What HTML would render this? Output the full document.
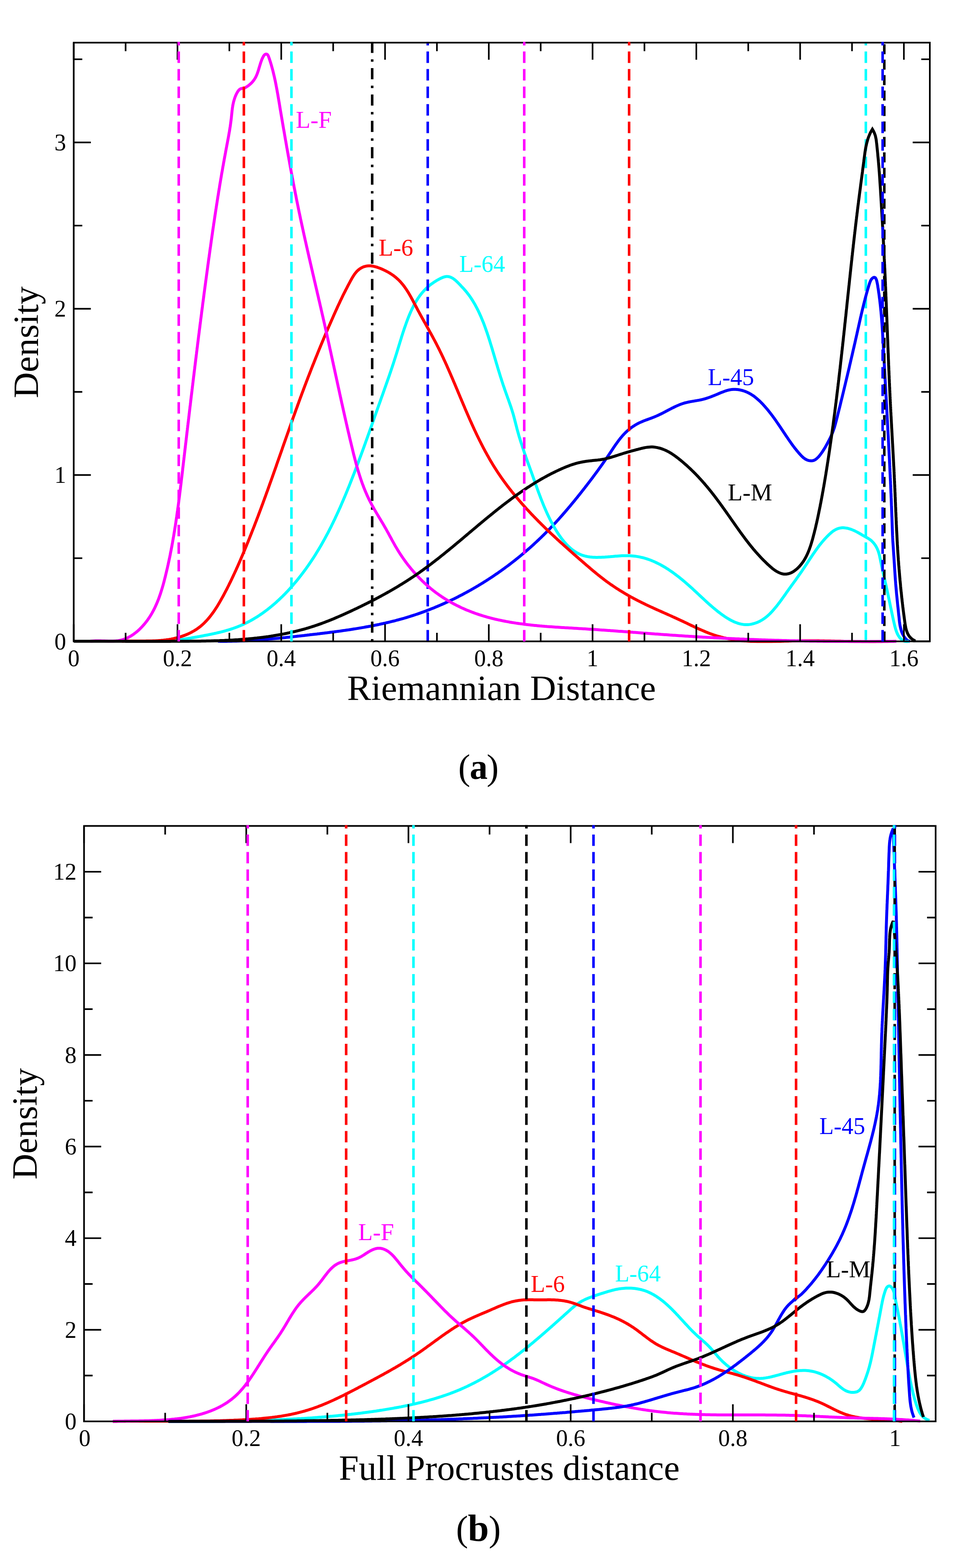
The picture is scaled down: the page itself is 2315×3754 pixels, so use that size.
<!DOCTYPE html>
<html lang="en"><head><meta charset="utf-8"><title>Density of Riemannian and full Procrustes distances</title>
<style>html,body{margin:0;padding:0;background:#fff}body{width:2315px;height:3754px;overflow:hidden}svg{display:block}text{font-family:'Liberation Serif', 'DejaVu Serif', serif}</style>
</head><body>
<svg width="2315" height="3754" viewBox="0 0 2315 3754">
<rect width="2315" height="3754" fill="#fff"/>
<g id="chart-a">
<clipPath id="clipA"><rect x="176.5" y="100.1" width="2049.5" height="1439.4"/></clipPath>
<path d="M2072.8 1535.8V100.2" stroke="#00ffff" stroke-width="6.1" stroke-dasharray="27.5 14.47" fill="none"/>
<g clip-path="url(#clipA)">
<path d="M521.8 1535.3l3 0l2.9 0.1l3 0l2.9 0l3 0l2.9 0l3 0l2.9-0.1l3 0l3 0l2.9-0.1l3-0.1l3 0l2.9-0.1l3-0.1l3-0.1l2.9-0.1l3-0.1l3-0.1l3-0.2l3-0.1l2.9-0.1l3-0.2l3-0.2l3-0.1l3-0.2l3-0.2l3-0.1l3-0.2l2.9-0.2l3-0.2l3-0.3l3-0.2l3-0.2l3-0.2l3-0.2l3-0.3l3-0.2l3-0.3l3-0.2l3-0.3l3-0.3l3-0.2l3-0.3l3.1-0.3l3-0.3l3-0.2l3-0.3l3-0.3l3-0.3l3-0.3l3-0.3l3-0.3l3-0.3l3-0.4l3-0.3l3.1-0.3l3-0.3l3-0.3l3-0.4l3-0.3l3-0.3l3-0.4l3-0.3l3-0.3l3.1-0.4l3-0.3l3-0.4l3-0.3l3-0.4l3-0.3l3-0.4l3-0.3l3-0.4l3-0.3l3-0.4l3.1-0.3l3-0.4l3-0.3l3-0.4l3-0.3l3-0.4l3-0.4l3-0.3l3-0.4l3-0.4l3-0.3l3-0.4l3-0.4l3-0.4l3-0.4l3-0.3l3-0.4l3-0.4l2.9-0.4l3-0.4l3-0.4l3-0.4l3-0.5l3-0.4l3-0.4l2.9-0.4l3-0.5l3-0.4l3-0.4l3-0.5l2.9-0.4l3-0.5l3-0.5l2.9-0.4l3-0.5l3-0.5l2.9-0.5l3-0.5l3-0.5l2.9-0.5l3-0.5l2.9-0.6l3-0.5l2.9-0.5l3-0.6l2.9-0.5l3-0.6l2.9-0.6l2.9-0.5l3-0.6l2.9-0.6l2.9-0.6l3-0.6l2.9-0.7l2.9-0.6l2.9-0.6l2.9-0.7l3-0.6l2.9-0.7l2.9-0.7l2.9-0.7l2.9-0.7l2.9-0.7l2.9-0.7l2.9-0.7l2.9-0.7l2.9-0.8l2.9-0.8l2.8-0.7l2.9-0.8l2.9-0.8l2.9-0.8l2.9-0.8l2.8-0.8l2.9-0.9l2.8-0.8l2.9-0.9l2.9-0.9l2.8-0.9l2.9-0.9l2.8-0.9l2.8-0.9l2.9-0.9l2.8-1l2.9-0.9l2.8-1l2.8-1l2.8-1l2.8-1l2.8-1l2.9-1.1l2.8-1l2.8-1.1l2.8-1l2.8-1.1l2.7-1.1l2.8-1.1l2.8-1.1l2.8-1.1l2.8-1.1l2.7-1.2l2.8-1.1l2.7-1.2l2.8-1.2l2.7-1.2l2.8-1.2l2.7-1.2l2.8-1.2l2.7-1.3l2.7-1.2l2.8-1.3l2.7-1.2l2.7-1.3l2.7-1.3l2.7-1.3l2.7-1.3l2.7-1.3l2.7-1.3l2.7-1.4l2.7-1.3l2.6-1.4l2.7-1.4l2.7-1.3l2.6-1.4l2.7-1.4l2.6-1.5l2.7-1.4l2.6-1.4l2.7-1.5l2.6-1.4l2.6-1.5l2.6-1.4l2.7-1.5l2.6-1.5l2.6-1.5l2.6-1.5l2.6-1.6l2.5-1.5l2.6-1.5l2.6-1.6l2.6-1.5l2.5-1.6l2.6-1.6l2.5-1.6l2.6-1.6l2.5-1.6l2.6-1.6l2.5-1.6l2.5-1.7l2.5-1.6l2.5-1.7l2.6-1.6l2.5-1.7l2.4-1.7l2.5-1.7l2.5-1.7l2.5-1.7l2.5-1.7l2.4-1.8l2.5-1.7l2.4-1.7l2.5-1.8l2.4-1.8l2.4-1.7l2.4-1.8l2.5-1.8l2.4-1.8l2.4-1.8l2.4-1.8l2.4-1.8l2.3-1.9l2.4-1.8l2.4-1.9l2.4-1.8l2.3-1.9l2.4-1.9l2.3-1.8l2.3-1.9l2.4-1.9l2.3-1.9l2.3-2l2.3-1.9l2.3-1.9l2.3-1.9l2.3-2l2.2-1.9l2.3-2l2.3-2l2.2-1.9l2.3-2l2.2-2l2.3-2l2.2-2l2.2-2l2.2-2.1l2.2-2l2.2-2l2.2-2.1l2.2-2l2.1-2.1l2.2-2.1l2.2-2l2.1-2.1l2.1-2.1l2.2-2.1l2.1-2.1l2.1-2.1l2.1-2.1l2.1-2.1l2.1-2.2l2.1-2.1l2.1-2.1l2-2.2l2.1-2.2l2-2.1l2.1-2.2l2-2.2l2-2.1l2.1-2.2l2-2.2l2-2.2l2-2.2l2-2.3l2-2.2l1.9-2.2l2-2.2l2-2.3l1.9-2.2l2-2.3l2-2.2l1.9-2.3l1.9-2.2l2-2.3l1.9-2.3l1.9-2.3l2-2.3l1.9-2.3l1.9-2.3l1.9-2.3l1.9-2.3l1.9-2.3l1.9-2.3l1.9-2.3l1.9-2.4l1.9-2.3l1.9-2.3l1.8-2.4l1.9-2.3l1.9-2.4l1.9-2.3l1.8-2.4l1.9-2.4l1.9-2.3l1.8-2.4l1.9-2.4l1.8-2.4l1.9-2.4l1.8-2.4l1.9-2.4l1.8-2.4l1.9-2.4l1.8-2.4l1.8-2.4l1.9-2.4l1.8-2.4l1.8-2.5l1.8-2.4l1.8-2.4l1.8-2.5l1.8-2.4l1.8-2.4l1.8-2.5l1.8-2.4l1.7-2.5l1.8-2.5l1.8-2.4l1.7-2.5l1.8-2.4l1.7-2.5l1.7-2.5l1.8-2.5l1.7-2.4l1.7-2.5l1.7-2.5l1.7-2.5l1.7-2.5l1.7-2.5l1.7-2.5l1.6-2.4l1.7-2.5l1.7-2.5l1.6-2.5l1.7-2.5l1.6-2.5l1.7-2.5l1.7-2.4l1.7-2.5l1.7-2.4l1.7-2.4l1.8-2.4l1.7-2.4l1.8-2.4l1.9-2.3l1.8-2.3l1.9-2.2l1.9-2.3l2-2.2l2-2.1l2.1-2.2l2.1-2.1l2.1-2l2.2-2l2.3-1.9l2.3-1.9l2.3-1.9l2.4-1.8l2.5-1.7l2.5-1.7l2.5-1.6l2.6-1.6l2.6-1.5l2.6-1.4l2.8-1.4l2.7-1.3l2.8-1.2l2.8-1.2l2.8-1.2l2.9-1.1l2.8-1.1l2.9-1l2.9-1.1l2.8-1l2.9-1.1l2.8-1l2.8-1.1l2.8-1.1l2.7-1.1l2.7-1.2l2.7-1.2l2.6-1.2l2.7-1.3l2.6-1.2l2.6-1.3l2.6-1.4l2.6-1.3l2.6-1.4l2.6-1.4l2.6-1.4l2.7-1.4l2.7-1.4l2.7-1.4l2.7-1.4l2.8-1.4l2.7-1.3l2.8-1.3l2.8-1.3l2.9-1.3l2.8-1.2l2.8-1.1l2.9-1.1l2.9-1l2.8-0.9l2.9-0.8l2.9-0.7l2.9-0.7l2.9-0.6l2.9-0.6l2.9-0.5l2.9-0.5l3-0.5l2.9-0.5l2.9-0.5l2.9-0.5l2.9-0.5l2.8-0.5l2.9-0.6l2.9-0.7l2.9-0.7l2.8-0.8l2.9-0.8l2.8-0.9l2.8-0.9l2.9-1l2.8-1l2.8-1.1l2.8-1.1l2.9-1.1l2.8-1.1l2.8-1.2l2.9-1.2l2.8-1.2l2.8-1.2l2.9-1.2l2.9-1.1l2.8-1.1l2.9-1.1l2.9-1l2.9-0.9l2.9-0.8l2.9-0.6l3-0.6l2.9-0.4l3-0.2l3-0.1l2.9 0.1l3 0.2l3 0.3l2.9 0.4l2.9 0.6l2.9 0.7l2.9 0.8l2.9 0.9l2.8 1l2.7 1.2l2.8 1.2l2.6 1.3l2.6 1.4l2.6 1.5l2.5 1.6l2.5 1.6l2.4 1.7l2.4 1.8l2.4 1.9l2.3 1.9l2.2 2l2.3 2l2.2 2l2.1 2.1l2.1 2.2l2.1 2.1l2.1 2.2l2 2.3l2 2.2l2 2.3l2 2.3l1.9 2.3l1.9 2.3l1.9 2.3l1.9 2.4l1.8 2.4l1.9 2.4l1.8 2.4l1.8 2.4l1.7 2.4l1.8 2.4l1.8 2.5l1.7 2.4l1.7 2.5l1.7 2.5l1.7 2.4l1.7 2.5l1.7 2.5l1.7 2.5l1.7 2.5l1.6 2.5l1.7 2.5l1.7 2.5l1.6 2.5l1.7 2.5l1.7 2.5l1.6 2.5l1.7 2.5l1.7 2.4l1.7 2.5l1.6 2.5l1.7 2.5l1.7 2.4l1.8 2.5l1.7 2.4l1.7 2.5l1.8 2.4l1.8 2.4l1.8 2.4l1.8 2.4l1.9 2.3l1.9 2.4l1.9 2.3l1.9 2.3l2 2.3l2 2.2l2.1 2.3l2 2.2l2.2 2.1l2.2 2l2.4 1.8l2.5 1.7l2.6 1.4l2.7 1.2l2.9 0.8l2.9 0.5l3 0.2l2.9-0.3l2.8-0.7l2.7-1.1l2.5-1.6l2.4-1.9l2.2-2.1l2.2-2.3l2-2.4l2-2.5l1.8-2.4l1.8-2.5l1.7-2.5l1.6-2.5l1.6-2.5l1.6-2.5l1.5-2.6l1.4-2.5l1.5-2.6l1.4-2.6l1.4-2.6l1.4-2.6l1.4-2.7l1.4-2.7l1.4-2.7l1.3-2.7l1.3-2.8l1.2-2.7l1.2-2.8l1.2-2.8l1.1-2.8l1-2.8l1-2.9l1-2.8l0.9-2.9l0.8-2.8l0.8-2.9l0.8-2.9l0.8-2.9l0.8-2.9l0.7-2.9l0.7-2.9l0.8-2.9l0.7-2.9l0.7-2.9l0.7-2.9l0.8-2.9l0.7-2.9l0.7-2.9l0.7-2.9l0.8-2.9l0.7-2.9l0.7-2.9l0.7-2.9l0.7-2.9l0.7-3l0.7-2.9l0.8-2.9l0.7-2.9l0.7-2.9l0.7-2.9l0.7-3l0.7-2.9l0.7-2.9l0.7-2.9l0.7-2.9l0.7-3l0.7-2.9l0.7-2.9l0.7-2.9l0.7-3l0.7-2.9l0.7-2.9l0.7-2.9l0.7-3l0.7-2.9l0.7-2.9l0.7-2.9l0.7-3l0.7-2.9l0.7-2.9l0.7-2.9l0.7-3l0.7-2.9l0.6-2.9l0.7-3l0.7-2.9l0.7-2.9l0.7-2.9l0.6-3l0.7-2.9l0.7-2.9l0.7-3l0.7-2.9l0.6-2.9l0.7-2.9l0.7-3l0.6-2.9l0.7-2.9l0.7-2.9l0.7-3l0.6-2.9l0.7-2.9l0.7-2.9l0.6-3l0.7-2.9l0.6-2.9l0.7-2.9l0.7-2.9l0.6-3l0.7-2.9l0.6-2.9l0.7-2.9l0.6-2.9l0.7-2.9l0.6-3l0.7-2.9l0.6-2.9l0.7-2.9l0.6-2.9l0.7-2.9l0.6-2.9l0.7-2.9l0.6-3l0.7-2.9l0.7-2.9l0.6-2.9l0.7-2.9l0.7-2.9l0.7-2.9l0.7-3l0.7-2.9l0.7-2.9l0.7-2.9l0.7-2.9l0.7-3l0.8-2.9l0.7-2.9l0.8-2.9l0.7-3l0.8-2.9l0.8-2.9l0.8-3l0.8-2.9l0.8-2.9l0.8-3l0.9-2.9l0.8-3l0.9-2.9l0.9-3l0.9-2.9l0.9-3l0.9-2.9l1.1-2.9l1.2-2.7l1.4-2.5l1.7-2.2l2-1.8l2.2-1.1l2.1-0.2l1.8 1l1.4 2l1.2 2.7l0.9 3l0.7 3.2l0.6 3.1l0.6 3.2l0.5 3l0.4 3.1l0.5 3l0.5 3l0.4 3l0.4 3l0.5 2.9l0.4 3l0.4 2.9l0.3 3l0.4 2.9l0.4 2.9l0.3 3l0.4 2.9l0.3 3l0.4 3l0.3 3l0.3 3l0.3 2.9l0.3 3l0.3 3l0.3 3l0.2 3l0.3 3l0.3 3l0.2 3l0.3 3l0.2 3.1l0.2 3l0.2 3l0.3 3l0.2 3l0.2 3l0.2 3l0.2 3l0.2 3l0.2 3l0.2 3l0.2 2.9l0.1 3l0.2 3l0.2 3l0.2 3l0.1 3l0.2 3l0.2 3l0.1 3l0.2 3l0.2 3l0.1 3l0.2 3l0.1 3l0.2 3l0.2 3l0.1 3l0.2 3l0.1 3l0.2 3l0.2 3l0.1 3l0.2 2.9l0.1 3l0.2 3l0.2 3l0.1 3l0.2 3l0.1 3l0.2 3l0.2 3l0.1 3l0.2 3l0.2 3l0.1 3l0.2 3l0.2 3l0.1 3l0.2 3l0.2 3l0.1 3l0.2 3l0.1 3l0.2 3l0.2 3l0.1 3l0.2 3l0.2 3l0.1 3l0.2 3l0.2 3l0.1 3l0.2 2.9l0.2 3l0.1 3l0.2 3l0.2 3l0.1 3l0.2 3l0.2 3l0.1 3l0.2 3l0.2 3l0.1 3l0.2 3l0.2 3l0.1 3l0.2 3l0.1 3l0.2 3l0.2 3l0.1 3l0.2 3l0.2 3l0.1 3l0.2 3l0.1 3l0.2 3l0.2 3l0.1 3l0.2 3l0.2 3l0.1 3l0.2 3l0.1 3l0.2 3l0.1 3l0.2 3l0.2 3l0.1 3l0.2 3l0.1 3l0.2 3l0.1 3l0.2 3l0.1 3l0.2 3l0.1 3l0.2 3l0.1 3l0.2 3l0.1 3l0.2 3l0.1 3l0.2 2.9l0.1 3l0.2 3l0.1 3l0.2 3l0.1 3l0.1 3l0.2 3l0.1 3l0.2 3l0.1 3l0.1 3l0.2 3l0.1 3l0.2 3l0.1 3l0.1 3l0.2 3l0.1 3l0.1 3l0.2 3l0.1 3l0.1 3l0.1 3l0.2 3l0.1 3l0.1 3l0.1 3l0.2 3l0.1 3l0.1 3l0.1 3l0.1 3l0.1 3l0.2 3l0.1 3l0.1 2.9l0.1 3l0.1 3l0.1 3l0.1 3l0.1 3l0.1 3l0.2 3l0.1 3l0.1 3l0.1 3l0.1 3l0.1 3l0.1 3l0.1 3l0.1 3l0.1 3l0.1 3l0.1 3l0.1 3l0.1 3l0.1 2.9l0.2 3l0.1 3l0.2 3l0.1 3l0.2 3l0.2 3l0.2 3l0.2 3l0.2 3l0.2 3l0.2 3l0.2 3l0.2 3l0.2 3l0.2 2.9l0.2 3l0.2 3l0.2 3l0.2 3l0.2 3l0.2 3l0.2 3l0.2 3l0.2 3l0.1 3l0.2 3l0.2 3l0.2 3l0.2 2.9l0.2 3l0.2 3l0.2 3l0.2 3l0.2 3l0.2 3l0.2 3l0.3 3l0.2 3l0.2 3l0.3 3l0.2 2.9l0.3 3l0.2 3l0.3 3l0.3 3l0.2 3l0.3 3l0.3 3l0.3 3l0.3 3l0.3 3l0.3 2.9l0.3 3l0.3 3l0.3 3l0.3 3l0.3 3l0.4 3l0.3 3l0.3 3l0.3 3l0.3 3l0.3 2.9l0.3 3l0.4 3l0.3 3l0.3 3l0.3 3l0.3 3l0.4 3l0.4 2.9l0.5 3l0.6 2.9l0.6 2.9l0.7 2.9l0.8 2.9l0.9 2.9l1 2.8l1.2 2.8l1.3 2.7l1.5 2.7l1.6 2.7l1.8 2.5l1.9 2.4l2.2 2l2.4 1.7l2.6 1.2l2.8 0.6" stroke="#0000ff" stroke-width="7" fill="none" stroke-linejoin="miter" stroke-miterlimit="3" stroke-linecap="butt"/>
<path d="M371 1535.3l2.9 0.1l3 0.1l2.9 0l2.9 0l3 0l2.9-0.1l3-0.1l2.9-0.1l3-0.2l2.9-0.1l3-0.2l3-0.3l3-0.2l3-0.3l3-0.3l3-0.4l3-0.3l3-0.4l3-0.4l3-0.4l3-0.4l3-0.5l3-0.4l3-0.5l3-0.5l3-0.5l3.1-0.5l3-0.5l3-0.5l3-0.6l3-0.5l3-0.5l3-0.6l3-0.5l3-0.6l3-0.5l3-0.6l3-0.5l3-0.6l3-0.6l3-0.5l3-0.6l2.9-0.6l3-0.6l3-0.6l2.9-0.6l3-0.6l2.9-0.7l3-0.6l2.9-0.7l2.9-0.7l2.9-0.7l2.9-0.7l2.9-0.7l2.9-0.8l2.9-0.8l2.9-0.8l2.8-0.8l2.9-0.8l2.8-0.9l2.9-0.9l2.8-0.9l2.8-0.9l2.8-1l2.8-1l2.7-1l2.8-1.1l2.8-1.1l2.7-1.1l2.7-1.1l2.7-1.2l2.7-1.2l2.7-1.3l2.7-1.3l2.6-1.3l2.7-1.3l2.6-1.4l2.6-1.4l2.6-1.4l2.6-1.5l2.6-1.4l2.6-1.6l2.5-1.5l2.6-1.6l2.5-1.5l2.5-1.7l2.5-1.6l2.5-1.7l2.4-1.7l2.5-1.7l2.4-1.7l2.5-1.8l2.4-1.8l2.4-1.8l2.4-1.8l2.4-1.9l2.3-1.8l2.4-1.9l2.3-1.9l2.3-2l2.3-1.9l2.3-2l2.3-2l2.3-2l2.2-2.1l2.3-2l2.2-2.1l2.2-2.1l2.2-2.1l2.2-2.1l2.2-2.1l2.1-2.2l2.1-2.1l2.2-2.2l2.1-2.2l2.1-2.2l2.1-2.2l2-2.3l2.1-2.2l2-2.3l2.1-2.3l2-2.3l2-2.3l2-2.3l1.9-2.3l2-2.3l1.9-2.3l2-2.4l1.9-2.4l1.9-2.3l1.8-2.4l1.9-2.4l1.9-2.4l1.8-2.4l1.8-2.4l1.9-2.4l1.7-2.4l1.8-2.4l1.8-2.4l1.8-2.5l1.7-2.4l1.7-2.5l1.7-2.4l1.7-2.5l1.7-2.5l1.7-2.4l1.7-2.5l1.6-2.5l1.7-2.5l1.6-2.5l1.6-2.5l1.6-2.5l1.6-2.5l1.6-2.6l1.5-2.5l1.6-2.5l1.5-2.6l1.6-2.5l1.5-2.6l1.5-2.5l1.5-2.6l1.5-2.5l1.5-2.6l1.4-2.6l1.5-2.6l1.4-2.6l1.5-2.6l1.4-2.6l1.4-2.6l1.4-2.6l1.4-2.6l1.4-2.6l1.4-2.6l1.4-2.7l1.3-2.6l1.4-2.6l1.3-2.7l1.4-2.6l1.3-2.7l1.3-2.6l1.3-2.7l1.3-2.7l1.3-2.6l1.3-2.7l1.3-2.7l1.3-2.7l1.2-2.7l1.3-2.7l1.3-2.7l1.2-2.7l1.2-2.7l1.3-2.7l1.2-2.7l1.2-2.7l1.2-2.7l1.3-2.7l1.2-2.8l1.2-2.7l1.1-2.7l1.2-2.8l1.2-2.7l1.2-2.8l1.2-2.7l1.1-2.8l1.2-2.7l1.2-2.8l1.1-2.7l1.2-2.8l1.1-2.8l1.1-2.7l1.2-2.8l1.1-2.8l1.1-2.8l1.2-2.7l1.1-2.8l1.1-2.8l1.1-2.8l1.1-2.8l1.1-2.8l1.1-2.8l1.1-2.8l1.1-2.8l1.1-2.8l1.1-2.8l1.1-2.8l1.1-2.8l1.1-2.8l1-2.9l1.1-2.8l1.1-2.8l1.1-2.8l1-2.8l1.1-2.9l1.1-2.8l1-2.8l1.1-2.8l1-2.9l1.1-2.8l1-2.9l1.1-2.8l1-2.8l1.1-2.9l1-2.8l1.1-2.9l1-2.8l1-2.8l1.1-2.9l1-2.8l1-2.9l1.1-2.8l1-2.9l1-2.8l1-2.9l1.1-2.8l1-2.9l1-2.8l1-2.9l1-2.9l1.1-2.8l1-2.9l1-2.8l1-2.9l1-2.8l1-2.9l1-2.8l1.1-2.9l1-2.9l1-2.8l1-2.9l1-2.8l1-2.9l1-2.9l1-2.8l1-2.9l1.1-2.8l1-2.9l1-2.8l1-2.9l1-2.9l1-2.8l1-2.9l1-2.8l1-2.9l1.1-2.8l1-2.9l1-2.8l1-2.9l1-2.8l1-2.9l1-2.8l1.1-2.9l1-2.8l1-2.8l1-2.9l1-2.8l1-2.9l1-2.8l1-2.9l1-2.8l1-2.8l1-2.9l1-2.8l1-2.9l1-2.8l1-2.8l1-2.9l1-2.8l1-2.8l0.9-2.9l1-2.8l1-2.8l0.9-2.9l1-2.8l0.9-2.8l1-2.9l0.9-2.8l1-2.8l0.9-2.9l0.9-2.8l0.9-2.8l0.9-2.9l0.9-2.8l0.9-2.8l0.9-2.8l0.9-2.9l0.9-2.8l0.9-2.8l0.8-2.8l0.9-2.9l0.9-2.8l0.8-2.8l0.9-2.9l0.8-2.8l0.9-2.8l0.9-2.8l0.8-2.9l0.9-2.8l0.9-2.8l0.9-2.8l0.8-2.9l0.9-2.8l0.9-2.8l0.9-2.8l0.9-2.9l1-2.8l0.9-2.8l0.9-2.8l1-2.9l1-2.8l1-2.8l1-2.8l1-2.9l1-2.8l1.1-2.8l1-2.8l1.1-2.9l1.1-2.8l1.1-2.8l1.2-2.8l1.2-2.8l1.2-2.8l1.2-2.8l1.3-2.7l1.2-2.8l1.4-2.7l1.3-2.7l1.4-2.7l1.4-2.7l1.5-2.6l1.5-2.6l1.5-2.6l1.6-2.6l1.6-2.6l1.6-2.5l1.7-2.4l1.7-2.5l1.8-2.4l1.9-2.4l1.8-2.3l2-2.3l2-2.3l2-2.2l2.1-2.1l2.1-2.2l2.2-2l2.3-2.1l2.3-1.9l2.3-2l2.4-1.8l2.5-1.9l2.5-1.7l2.5-1.7l2.6-1.7l2.6-1.6l2.6-1.5l2.6-1.5l2.7-1.4l2.7-1.4l2.7-1.2l2.7-1.2l2.7-0.9l2.7-0.7l2.7-0.4l2.7-0.1l2.7 0.3l2.6 0.6l2.6 0.9l2.6 1.2l2.6 1.5l2.4 1.7l2.5 1.9l2.4 2l2.3 2.2l2.3 2.3l2.3 2.3l2.2 2.3l2.2 2.3l2.1 2.3l2.1 2.2l2.1 2.2l2 2.2l1.9 2.3l2 2.2l1.9 2.3l1.8 2.3l1.8 2.3l1.8 2.4l1.8 2.4l1.7 2.4l1.7 2.5l1.6 2.5l1.6 2.5l1.6 2.5l1.5 2.6l1.6 2.6l1.5 2.6l1.4 2.6l1.4 2.7l1.4 2.6l1.4 2.7l1.4 2.7l1.3 2.7l1.3 2.7l1.3 2.7l1.2 2.8l1.2 2.7l1.3 2.8l1.1 2.7l1.2 2.8l1.1 2.8l1.2 2.8l1.1 2.7l1.1 2.8l1 2.8l1.1 2.9l1 2.8l1 2.8l1 2.8l1 2.9l1 2.8l1 2.8l0.9 2.9l1 2.8l0.9 2.9l0.9 2.8l1 2.9l0.9 2.9l0.9 2.8l0.8 2.9l0.9 2.9l0.9 2.8l0.9 2.9l0.9 2.9l0.8 2.8l0.9 2.9l0.8 2.9l0.9 2.8l0.8 2.9l0.9 2.9l0.8 2.8l0.9 2.9l0.8 2.9l0.9 2.9l0.8 2.8l0.9 2.9l0.8 2.9l0.9 2.8l0.9 2.9l0.8 2.9l0.9 2.9l0.8 2.8l0.9 2.9l0.9 2.9l0.9 2.9l0.9 2.8l0.8 2.9l0.9 2.9l0.9 2.8l1 2.9l0.9 2.9l0.9 2.9l0.9 2.8l1 2.9l0.9 2.9l1 2.9l1 2.8l1 2.9l0.9 2.9l1.1 2.8l1 2.9l1 2.9l1 2.9l1.1 2.8l1 2.9l1 2.9l1.1 2.8l1 2.9l1 2.9l1 2.8l1 2.9l1 2.9l1 2.8l1 2.9l0.9 2.9l0.9 2.8l0.9 2.9l0.9 2.9l0.9 2.8l0.8 2.9l0.8 2.9l0.8 2.8l0.7 2.9l0.8 2.8l0.7 2.9l0.7 2.9l0.8 2.8l0.7 2.9l0.7 2.8l0.8 2.9l0.7 2.9l0.7 2.8l0.8 2.9l0.8 2.8l0.8 2.9l0.8 2.8l0.8 2.9l0.8 2.8l0.9 2.9l0.9 2.8l0.8 2.9l0.9 2.8l0.9 2.9l0.9 2.8l1 2.9l0.9 2.8l0.9 2.9l1 2.8l0.9 2.8l1 2.9l1 2.8l0.9 2.8l1 2.9l1 2.8l1 2.9l1 2.8l1 2.8l1 2.8l1 2.9l1 2.8l1 2.8l1.1 2.9l1 2.8l1 2.8l1 2.8l1 2.8l1 2.9l1.1 2.8l1 2.8l1 2.8l1 2.8l1 2.8l1 2.9l1 2.8l1 2.8l1 2.8l1 2.8l1 2.8l1 2.8l1 2.8l1 2.8l1 2.8l1 2.8l1 2.8l1 2.8l1 2.8l1.1 2.7l1 2.8l1.1 2.8l1 2.8l1.1 2.8l1.1 2.8l1.1 2.7l1.1 2.8l1.1 2.8l1.1 2.8l1.1 2.7l1.2 2.8l1.2 2.8l1.2 2.8l1.2 2.7l1.2 2.8l1.2 2.7l1.3 2.8l1.3 2.8l1.3 2.7l1.3 2.8l1.4 2.7l1.3 2.8l1.4 2.7l1.4 2.8l1.5 2.7l1.5 2.7l1.4 2.8l1.6 2.7l1.5 2.7l1.6 2.7l1.6 2.7l1.6 2.7l1.7 2.7l1.7 2.6l1.7 2.6l1.8 2.6l1.8 2.6l1.8 2.5l1.8 2.5l1.9 2.5l1.9 2.4l1.9 2.3l2 2.4l2 2.2l2 2.3l2.1 2.1l2.1 2.1l2.1 2.1l2.2 1.9l2.2 2l2.2 1.8l2.3 1.8l2.3 1.7l2.4 1.6l2.3 1.5l2.5 1.5l2.4 1.4l2.5 1.3l2.5 1.2l2.6 1.1l2.6 1l2.7 0.9l2.6 0.8l2.8 0.7l2.7 0.6l2.8 0.6l2.8 0.4l2.9 0.4l2.8 0.3l2.9 0.3l3 0.2l2.9 0.1l3 0.1l3 0l3-0.1l3 0l3.1-0.1l3.1-0.2l3-0.1l3.1-0.2l3.1-0.3l3.2-0.2l3.1-0.3l3.1-0.2l3.1-0.3l3.2-0.2l3.1-0.3l3.1-0.3l3.2-0.2l3.1-0.2l3.1-0.2l3.2-0.2l3.1-0.2l3.1-0.1l3.1-0.1l3.1 0l3 0l3.1 0l3 0.1l3.1 0.2l3 0.2l3 0.3l2.9 0.3l3 0.4l2.9 0.5l2.9 0.5l2.9 0.5l2.9 0.7l2.9 0.6l2.8 0.7l2.9 0.8l2.8 0.8l2.8 0.9l2.8 0.9l2.7 1l2.8 1l2.7 1l2.7 1.1l2.7 1.2l2.7 1.1l2.7 1.3l2.6 1.2l2.7 1.3l2.6 1.4l2.6 1.3l2.6 1.4l2.6 1.5l2.6 1.5l2.5 1.5l2.6 1.5l2.5 1.6l2.5 1.6l2.5 1.6l2.5 1.7l2.5 1.7l2.5 1.7l2.4 1.7l2.4 1.8l2.5 1.8l2.4 1.8l2.4 1.8l2.4 1.9l2.4 1.8l2.3 1.9l2.4 1.9l2.3 1.9l2.4 2l2.3 1.9l2.3 2l2.3 1.9l2.3 2l2.3 2l2.3 2l2.2 2l2.3 2.1l2.2 2l2.3 2l2.2 2.1l2.2 2l2.2 2l2.2 2.1l2.2 2l2.2 2.1l2.2 2l2.2 2.1l2.2 2l2.1 2l2.2 2.1l2.2 2l2.2 2l2.2 2.1l2.2 2l2.2 2l2.2 2l2.2 2l2.2 2l2.3 1.9l2.2 2l2.3 1.9l2.3 2l2.3 1.9l2.3 1.9l2.4 1.9l2.3 1.9l2.4 1.9l2.4 1.8l2.4 1.8l2.5 1.9l2.5 1.8l2.5 1.7l2.5 1.8l2.6 1.7l2.5 1.6l2.7 1.6l2.6 1.6l2.6 1.5l2.7 1.4l2.7 1.4l2.7 1.3l2.7 1.2l2.8 1.1l2.8 1l2.8 1l2.8 0.8l2.8 0.7l2.9 0.6l2.8 0.5l2.9 0.3l2.9 0.2l2.9 0.1l3-0.1l2.9-0.2l3-0.3l2.9-0.5l3-0.7l2.9-0.8l2.9-0.9l2.9-1l2.9-1.1l2.8-1.3l2.8-1.3l2.7-1.5l2.7-1.5l2.5-1.7l2.5-1.7l2.5-1.8l2.4-1.8l2.3-2l2.3-2l2.2-2l2.2-2.1l2.1-2.2l2.1-2.2l2-2.2l2-2.2l2-2.3l1.9-2.3l1.9-2.3l1.9-2.3l1.8-2.3l1.8-2.3l1.8-2.4l1.8-2.3l1.7-2.4l1.8-2.4l1.7-2.4l1.7-2.4l1.7-2.3l1.8-2.5l1.7-2.4l1.7-2.4l1.7-2.4l1.7-2.5l1.7-2.4l1.8-2.4l1.7-2.5l1.8-2.5l1.8-2.4l1.7-2.5l1.8-2.4l1.8-2.5l1.8-2.5l1.8-2.5l1.8-2.5l1.8-2.4l1.8-2.5l1.7-2.5l1.8-2.5l1.8-2.5l1.7-2.5l1.8-2.5l1.7-2.5l1.7-2.4l1.7-2.5l1.7-2.5l1.7-2.5l1.7-2.5l1.6-2.5l1.6-2.4l1.7-2.5l1.6-2.5l1.6-2.5l1.7-2.4l1.6-2.5l1.6-2.5l1.6-2.4l1.7-2.5l1.6-2.5l1.7-2.4l1.6-2.5l1.7-2.4l1.7-2.4l1.7-2.5l1.7-2.4l1.8-2.4l1.7-2.5l1.8-2.4l1.8-2.4l1.8-2.4l1.9-2.3l1.9-2.4l1.9-2.3l2-2.3l2-2.3l2-2.3l2.1-2.3l2.1-2.2l2.1-2.2l2.2-2.2l2.2-2.1l2.3-2.1l2.3-2l2.4-2l2.4-1.8l2.5-1.7l2.5-1.5l2.6-1.3l2.7-1.2l2.7-0.9l2.7-0.7l2.8-0.5l2.9-0.3l2.9 0l2.9 0.1l2.9 0.4l2.9 0.4l3 0.7l2.9 0.8l2.9 0.9l2.9 1l2.8 1.2l2.8 1.2l2.8 1.3l2.7 1.4l2.7 1.4l2.7 1.5l2.6 1.5l2.7 1.5l2.6 1.5l2.6 1.6l2.6 1.5l2.6 1.5l2.5 1.4l2.6 1.5l2.5 1.4l2.4 1.6l2.4 1.7l2.4 1.9l2.2 2.1l2.1 2.2l2 2.4l1.9 2.5l1.7 2.5l1.5 2.6l1.4 2.6l1.3 2.6l1.1 2.7l1.1 2.7l0.9 2.7l0.8 2.8l0.8 2.8l0.7 2.8l0.6 2.9l0.6 2.9l0.6 2.8l0.6 2.9l0.6 3l0.6 2.9l0.6 3l0.6 2.9l0.6 3l0.7 3l0.6 3l0.7 3l0.7 3l0.6 3l0.7 3l0.7 3l0.7 3l0.7 3l0.7 3l0.7 3l0.6 3l0.7 3l0.7 2.9l0.6 2.9l0.7 3l0.6 2.9l0.7 2.9l0.6 2.9l0.6 2.9l0.6 2.9l0.7 2.9l0.6 2.9l0.6 2.9l0.6 2.9l0.6 2.8l0.6 2.9l0.6 2.9l0.6 2.9l0.6 2.9l0.6 2.9l0.6 2.9l0.6 2.9l0.7 2.9l0.6 2.9l0.6 2.9l0.6 3l0.6 2.9l0.7 3l0.6 2.9l0.6 3l0.7 3l0.6 3l0.7 3l0.7 3l0.7 3l0.7 3l0.7 3.1l0.8 3l0.8 3l0.9 2.9l0.9 2.9l1.1 2.8l1.1 2.8l1.2 2.6l1.4 2.6l1.5 2.4l1.6 2.3l1.8 2.2l2 2.1l2.1 1.8l2.4 1.6l2.5 1.3l2.7 0.9l3 0.4l3.2-0.1l3.4-0.6" stroke="#00ffff" stroke-width="7" fill="none" stroke-linejoin="miter" stroke-miterlimit="3" stroke-linecap="butt"/>
</g>
<path d="M1024 1535.8V100.2" stroke="#0000ff" stroke-width="6.1" stroke-dasharray="27.5 14.47" fill="none"/>
<path d="M891 1536V100.2" stroke="#000000" stroke-width="6.1" stroke-dasharray="5.9 15.25 26.7 15.25" fill="none"/>
<g clip-path="url(#clipA)">
<path d="M291.7 1535.3l2.8-0.1l2.8-0.2l2.8-0.1l2.9 0l2.9-0.1l2.9-0.1l2.9 0l3 0l2.9 0l3 0l3 0l3 0l3 0l3 0l3.1 0l3 0l3.1 0l3.1 0l3 0l3.1-0.1l3.1 0l3.1 0l3.1-0.1l3.1-0.1l3.1-0.1l3.1-0.1l3.1-0.1l3.1-0.2l3-0.2l3.1-0.2l3.1-0.2l3.1-0.3l3-0.3l3.1-0.4l3-0.3l3.1-0.5l3-0.4l3-0.5l3-0.5l3-0.6l3-0.6l2.9-0.7l2.9-0.7l3-0.7l2.9-0.8l2.8-0.8l2.9-0.9l2.8-0.9l2.8-1l2.8-1l2.8-1.1l2.7-1.1l2.7-1.1l2.7-1.3l2.6-1.2l2.6-1.3l2.6-1.4l2.6-1.4l2.5-1.4l2.5-1.6l2.4-1.5l2.4-1.6l2.4-1.7l2.3-1.8l2.3-1.7l2.3-1.9l2.2-1.9l2.1-1.9l2.2-2l2.1-2.1l2-2.1l2.1-2.1l2-2.2l1.9-2.2l1.9-2.2l1.9-2.3l1.9-2.4l1.8-2.4l1.8-2.4l1.8-2.4l1.8-2.5l1.7-2.4l1.7-2.6l1.7-2.5l1.6-2.6l1.7-2.5l1.6-2.6l1.6-2.7l1.5-2.6l1.6-2.6l1.5-2.7l1.5-2.7l1.5-2.6l1.5-2.7l1.5-2.7l1.5-2.7l1.4-2.7l1.4-2.7l1.5-2.7l1.4-2.7l1.4-2.6l1.4-2.7l1.3-2.7l1.4-2.7l1.4-2.7l1.3-2.7l1.3-2.8l1.4-2.7l1.3-2.7l1.3-2.7l1.3-2.7l1.3-2.7l1.3-2.7l1.2-2.7l1.3-2.8l1.3-2.7l1.2-2.7l1.3-2.7l1.2-2.7l1.2-2.8l1.3-2.7l1.2-2.7l1.2-2.8l1.2-2.7l1.2-2.7l1.2-2.8l1.2-2.7l1.2-2.8l1.1-2.7l1.2-2.7l1.2-2.8l1.2-2.7l1.1-2.8l1.2-2.7l1.1-2.8l1.2-2.8l1.1-2.7l1.2-2.8l1.1-2.7l1.2-2.8l1.1-2.8l1.1-2.7l1.2-2.8l1.1-2.8l1.1-2.7l1.1-2.8l1.1-2.8l1.1-2.8l1.1-2.7l1.1-2.8l1.1-2.8l1.1-2.8l1.1-2.8l1.1-2.8l1.1-2.7l1.1-2.8l1.1-2.8l1.1-2.8l1-2.8l1.1-2.8l1.1-2.8l1.1-2.8l1-2.8l1.1-2.8l1.1-2.8l1-2.8l1.1-2.8l1-2.8l1.1-2.8l1-2.8l1.1-2.8l1-2.8l1.1-2.8l1-2.8l1-2.8l1.1-2.8l1-2.9l1-2.8l1.1-2.8l1-2.8l1-2.8l1.1-2.8l1-2.9l1-2.8l1-2.8l1-2.8l1.1-2.8l1-2.9l1-2.8l1-2.8l1-2.8l1-2.9l1-2.8l1-2.8l1.1-2.8l1-2.9l1-2.8l1-2.8l1-2.8l1-2.9l1-2.8l1-2.8l1-2.9l1-2.8l1-2.8l1-2.9l1-2.8l1-2.8l0.9-2.9l1-2.8l1-2.8l1-2.9l1-2.8l1-2.8l1-2.9l1-2.8l1-2.8l1-2.9l1-2.8l1-2.8l1-2.9l1-2.8l0.9-2.8l1-2.9l1-2.8l1-2.8l1-2.9l1-2.8l1-2.8l1-2.9l1-2.8l1-2.9l1-2.8l1-2.8l1-2.9l1-2.8l1-2.8l1-2.9l1-2.8l1-2.8l1-2.9l1-2.8l1-2.8l1-2.9l1-2.8l1-2.8l1-2.8l1-2.9l1-2.8l1-2.8l1.1-2.9l1-2.8l1-2.8l1-2.8l1-2.9l1-2.8l1.1-2.8l1-2.8l1-2.9l1-2.8l1.1-2.8l1-2.8l1-2.9l1.1-2.8l1-2.8l1-2.8l1.1-2.8l1-2.8l1.1-2.9l1-2.8l1.1-2.8l1-2.8l1.1-2.8l1-2.8l1.1-2.8l1-2.8l1.1-2.8l1.1-2.9l1-2.8l1.1-2.8l1.1-2.8l1.1-2.8l1-2.8l1.1-2.8l1.1-2.8l1.1-2.8l1.1-2.8l1.1-2.8l1.1-2.8l1-2.8l1.1-2.7l1.1-2.8l1.1-2.8l1.1-2.8l1.2-2.8l1.1-2.8l1.1-2.8l1.1-2.8l1.1-2.8l1.1-2.7l1.1-2.8l1.2-2.8l1.1-2.8l1.1-2.8l1.1-2.7l1.2-2.8l1.1-2.8l1.2-2.7l1.1-2.8l1.1-2.8l1.2-2.8l1.1-2.7l1.2-2.8l1.1-2.8l1.2-2.7l1.2-2.8l1.1-2.7l1.2-2.8l1.2-2.8l1.1-2.7l1.2-2.8l1.2-2.7l1.2-2.8l1.1-2.7l1.2-2.8l1.2-2.7l1.2-2.8l1.2-2.7l1.2-2.7l1.2-2.8l1.2-2.7l1.2-2.8l1.2-2.7l1.2-2.7l1.2-2.8l1.2-2.7l1.2-2.7l1.3-2.8l1.2-2.7l1.2-2.7l1.2-2.7l1.3-2.7l1.2-2.8l1.2-2.7l1.3-2.7l1.2-2.7l1.3-2.7l1.3-2.7l1.2-2.7l1.3-2.7l1.3-2.7l1.3-2.7l1.3-2.7l1.3-2.7l1.3-2.7l1.4-2.6l1.3-2.7l1.4-2.7l1.3-2.7l1.4-2.6l1.4-2.7l1.4-2.7l1.4-2.7l1.4-2.7l1.4-2.7l1.5-2.7l1.4-2.7l1.5-2.7l1.5-2.7l1.6-2.7l1.6-2.7l1.6-2.5l1.7-2.6l1.8-2.4l1.9-2.3l2-2.3l2.1-2.1l2.2-1.9l2.3-1.9l2.5-1.6l2.5-1.5l2.6-1.3l2.7-1.1l2.8-0.8l2.7-0.7l2.8-0.4l2.9-0.2l2.8-0.1l2.9 0.2l2.8 0.3l2.9 0.5l2.9 0.7l2.9 0.7l2.9 0.9l2.9 1l2.8 1l2.9 1.1l2.8 1.2l2.9 1.3l2.8 1.3l2.7 1.3l2.8 1.4l2.7 1.5l2.7 1.5l2.6 1.5l2.6 1.6l2.6 1.7l2.5 1.7l2.4 1.8l2.4 1.9l2.3 1.8l2.3 2l2.2 2l2.1 2l2.1 2.1l2 2.1l2 2.2l1.9 2.3l1.9 2.2l1.8 2.3l1.8 2.4l1.7 2.4l1.7 2.4l1.7 2.4l1.6 2.5l1.6 2.5l1.6 2.6l1.5 2.5l1.5 2.6l1.5 2.6l1.5 2.6l1.4 2.7l1.5 2.6l1.4 2.7l1.4 2.7l1.4 2.6l1.4 2.7l1.4 2.7l1.5 2.7l1.4 2.6l1.4 2.7l1.4 2.7l1.4 2.7l1.4 2.6l1.5 2.7l1.4 2.6l1.5 2.7l1.4 2.6l1.5 2.6l1.4 2.7l1.5 2.6l1.5 2.6l1.4 2.7l1.5 2.6l1.5 2.6l1.4 2.6l1.5 2.7l1.4 2.6l1.5 2.6l1.5 2.6l1.4 2.6l1.5 2.7l1.4 2.6l1.5 2.6l1.4 2.6l1.4 2.7l1.5 2.6l1.4 2.6l1.4 2.7l1.4 2.6l1.4 2.6l1.4 2.7l1.4 2.6l1.4 2.7l1.3 2.7l1.4 2.6l1.3 2.7l1.4 2.7l1.3 2.7l1.3 2.6l1.3 2.7l1.3 2.7l1.3 2.7l1.3 2.7l1.3 2.7l1.3 2.7l1.2 2.8l1.3 2.7l1.2 2.7l1.3 2.7l1.2 2.8l1.3 2.7l1.2 2.7l1.2 2.8l1.2 2.7l1.2 2.7l1.2 2.8l1.2 2.7l1.2 2.8l1.2 2.7l1.2 2.8l1.2 2.8l1.2 2.7l1.2 2.8l1.2 2.7l1.1 2.8l1.2 2.8l1.2 2.7l1.2 2.8l1.1 2.8l1.2 2.7l1.1 2.8l1.2 2.8l1.2 2.7l1.1 2.8l1.2 2.8l1.2 2.8l1.1 2.7l1.2 2.8l1.1 2.8l1.2 2.7l1.2 2.8l1.1 2.8l1.2 2.8l1.2 2.7l1.1 2.8l1.2 2.8l1.2 2.7l1.2 2.8l1.1 2.8l1.2 2.7l1.2 2.8l1.2 2.7l1.2 2.8l1.2 2.8l1.2 2.7l1.2 2.8l1.2 2.7l1.2 2.8l1.2 2.7l1.2 2.8l1.3 2.7l1.2 2.7l1.2 2.8l1.3 2.7l1.2 2.7l1.3 2.7l1.2 2.8l1.3 2.7l1.3 2.7l1.2 2.7l1.3 2.7l1.3 2.7l1.3 2.7l1.3 2.7l1.3 2.7l1.4 2.7l1.3 2.7l1.3 2.6l1.4 2.7l1.3 2.7l1.4 2.6l1.3 2.7l1.4 2.6l1.4 2.7l1.4 2.6l1.4 2.7l1.4 2.6l1.5 2.6l1.4 2.6l1.4 2.6l1.5 2.6l1.5 2.6l1.4 2.6l1.5 2.6l1.5 2.6l1.5 2.6l1.6 2.5l1.5 2.6l1.5 2.5l1.6 2.6l1.6 2.5l1.6 2.6l1.6 2.5l1.6 2.5l1.6 2.5l1.6 2.5l1.7 2.5l1.6 2.5l1.7 2.4l1.7 2.5l1.7 2.5l1.7 2.4l1.7 2.4l1.8 2.5l1.7 2.4l1.8 2.4l1.8 2.4l1.7 2.4l1.8 2.4l1.8 2.4l1.9 2.4l1.8 2.4l1.8 2.4l1.9 2.3l1.8 2.4l1.9 2.3l1.9 2.3l1.9 2.4l1.9 2.3l1.9 2.3l1.9 2.3l2 2.3l1.9 2.3l2 2.3l1.9 2.3l2 2.3l2 2.3l2 2.2l2 2.3l2 2.2l2 2.3l2 2.2l2 2.3l2.1 2.2l2 2.2l2.1 2.2l2 2.2l2.1 2.2l2 2.2l2.1 2.2l2.1 2.2l2.1 2.2l2.1 2.1l2.1 2.2l2.1 2.2l2.2 2.1l2.1 2.2l2.1 2.1l2.1 2.1l2.2 2.2l2.1 2.1l2.2 2.1l2.1 2.1l2.2 2.2l2.2 2.1l2.2 2.1l2.1 2.1l2.2 2l2.2 2.1l2.2 2.1l2.2 2.1l2.2 2.1l2.2 2l2.2 2.1l2.2 2l2.2 2.1l2.2 2l2.2 2.1l2.3 2l2.2 2l2.2 2.1l2.2 2l2.3 2l2.2 2l2.2 2l2.2 2l2.3 2l2.2 2l2.3 2l2.2 2l2.2 2l2.3 2l2.2 2l2.3 1.9l2.2 2l2.2 2l2.3 1.9l2.2 2l2.3 1.9l2.2 2l2.2 1.9l2.3 2l2.2 1.9l2.2 1.9l2.3 2l2.2 1.9l2.2 1.9l2.3 1.9l2.2 2l2.2 1.9l2.3 1.9l2.2 1.9l2.2 1.9l2.2 1.9l2.3 1.9l2.2 1.9l2.3 1.9l2.2 1.8l2.3 1.9l2.3 1.9l2.2 1.8l2.3 1.9l2.3 1.8l2.3 1.8l2.4 1.9l2.3 1.8l2.4 1.8l2.3 1.8l2.4 1.8l2.4 1.8l2.4 1.7l2.5 1.8l2.4 1.7l2.5 1.8l2.5 1.7l2.5 1.7l2.5 1.7l2.6 1.7l2.5 1.7l2.6 1.7l2.6 1.6l2.6 1.7l2.6 1.6l2.6 1.6l2.6 1.6l2.7 1.6l2.6 1.6l2.7 1.6l2.6 1.5l2.7 1.6l2.7 1.5l2.6 1.5l2.7 1.5l2.7 1.4l2.7 1.5l2.7 1.4l2.6 1.4l2.7 1.4l2.7 1.4l2.7 1.4l2.7 1.3l2.7 1.4l2.6 1.3l2.7 1.3l2.7 1.3l2.7 1.3l2.7 1.3l2.6 1.3l2.7 1.2l2.7 1.3l2.7 1.2l2.7 1.2l2.7 1.3l2.6 1.2l2.7 1.2l2.7 1.2l2.7 1.2l2.7 1.2l2.7 1.2l2.7 1.2l2.7 1.2l2.7 1.2l2.7 1.2l2.7 1.2l2.7 1.2l2.7 1.2l2.7 1.2l2.7 1.2l2.7 1.2l2.7 1.3l2.7 1.2l2.7 1.2l2.7 1.2l2.7 1.3l2.7 1.2l2.8 1.3l2.7 1.3l2.7 1.2l2.8 1.3l2.7 1.3l2.7 1.3l2.8 1.3l2.7 1.3l2.7 1.3l2.8 1.4l2.7 1.3l2.8 1.3l2.8 1.3l2.7 1.3l2.8 1.3l2.8 1.2l2.7 1.3l2.8 1.3l2.8 1.2l2.8 1.2l2.8 1.2l2.8 1.2l2.8 1.2l2.8 1.2l2.8 1.1l2.8 1.1l2.8 1.1l2.8 1l2.8 1l2.9 1l2.8 1l2.8 0.9l2.9 0.9l2.8 0.8l2.9 0.8l2.9 0.8l2.8 0.8l2.9 0.7l2.9 0.7l2.8 0.6l2.9 0.7l2.9 0.6l2.9 0.5l2.9 0.6l2.9 0.5l2.9 0.5l2.9 0.4l2.9 0.5l2.9 0.4l3 0.4l2.9 0.3l2.9 0.4l3 0.3l2.9 0.3l2.9 0.2l3 0.3l2.9 0.2l3 0.2l2.9 0.2l3 0.2l3 0.2l2.9 0.1l3 0.1l3 0.1l2.9 0.1l3 0.1l3 0.1l3 0l3 0.1l2.9 0l3 0l3 0l3 0l3 0l3-0.1l3 0l3 0l3-0.1l3-0.1l3.1 0l3-0.1l3-0.1l3 0l3-0.1l3-0.1l3.1-0.1l3-0.1l3-0.1l3-0.1l3.1 0l3-0.1l3-0.1l3.1-0.1l3-0.1l3-0.1l3.1 0l3-0.1l3-0.1l3.1 0l3-0.1l3 0l3.1-0.1l3 0l3.1 0l3-0.1l3 0l3.1 0l3 0l3.1 0l3 0l3.1 0l3 0.1l3 0l3.1 0l3 0l3.1 0.1l3 0l3.1 0.1l3 0l3 0.1l3.1 0l3 0.1l3.1 0l3 0.1l3 0.1l3.1 0l3 0.1l3 0.1l3.1 0l3 0.1l3 0.1l3.1 0l3 0.1l3 0.1l3 0.1l3.1 0l3 0.1l3 0.1l3 0l3 0.1l3.1 0.1l3 0l3 0.1l3 0l3 0.1l3 0l3 0.1l3 0l3 0.1l3 0l3 0.1l3 0l3 0l3 0l2.9 0.1l3 0l3 0l3 0l2.9 0l3 0l3-0.1l2.9 0l3 0l2.9-0.1l3 0l2.9-0.1l3 0l2.9-0.1l3-0.1l2.9 0l2.9-0.1l2.9-0.1l3-0.2l2.9-0.1l2.9-0.1" stroke="#ff0000" stroke-width="7" fill="none" stroke-linejoin="miter" stroke-miterlimit="3" stroke-linecap="butt"/>
<path d="M216.3 1535.3l3.1-0.4l3.1-0.2l3-0.2l3.1-0.2l3.1-0.1l3.1 0l3.1 0l3 0.1l3.1 0.1l3.1 0.1l3 0.1l3.1 0.1l3 0.1l3 0.1l3 0l3 0.1l2.9-0.1l3 0l2.9-0.2l3-0.2l2.8-0.3l2.9-0.3l2.9-0.5l2.8-0.6l2.8-0.6l2.8-0.8l2.7-0.9l2.8-1l2.7-1.1l2.6-1.2l2.7-1.3l2.6-1.4l2.6-1.5l2.5-1.5l2.5-1.7l2.5-1.7l2.4-1.8l2.4-1.8l2.4-1.9l2.3-2l2.2-2l2.3-2.1l2.2-2.2l2.1-2.1l2.1-2.3l2-2.2l2-2.3l2-2.3l1.9-2.4l1.8-2.4l1.9-2.4l1.7-2.4l1.7-2.5l1.7-2.4l1.6-2.5l1.6-2.6l1.6-2.5l1.5-2.6l1.4-2.6l1.5-2.6l1.3-2.6l1.4-2.7l1.3-2.7l1.3-2.6l1.2-2.8l1.3-2.7l1.1-2.7l1.2-2.8l1.1-2.7l1.1-2.8l1.1-2.8l1-2.8l1-2.9l1-2.8l1-2.8l0.9-2.9l0.9-2.9l0.9-2.8l0.9-2.9l0.9-2.9l0.8-2.9l0.9-2.9l0.8-2.9l0.8-3l0.8-2.9l0.7-2.9l0.8-2.9l0.7-3l0.8-2.9l0.7-2.9l0.7-2.9l0.7-3l0.7-2.9l0.7-3l0.7-2.9l0.7-2.9l0.7-3l0.6-2.9l0.7-2.9l0.6-3l0.7-2.9l0.6-3l0.6-2.9l0.6-2.9l0.7-3l0.6-2.9l0.6-3l0.5-2.9l0.6-3l0.6-2.9l0.6-3l0.5-2.9l0.6-3l0.6-2.9l0.5-3l0.5-2.9l0.6-3l0.5-2.9l0.5-3l0.5-2.9l0.5-3l0.6-2.9l0.5-3l0.4-2.9l0.5-3l0.5-3l0.5-2.9l0.5-3l0.4-2.9l0.5-3l0.5-3l0.4-2.9l0.5-3l0.4-2.9l0.5-3l0.4-3l0.4-2.9l0.5-3l0.4-2.9l0.4-3l0.4-3l0.4-2.9l0.5-3l0.4-3l0.4-2.9l0.4-3l0.4-3l0.4-2.9l0.4-3l0.4-3l0.3-2.9l0.4-3l0.4-3l0.4-3l0.4-2.9l0.3-3l0.4-3l0.4-2.9l0.3-3l0.4-3l0.4-3l0.3-2.9l0.4-3l0.4-3l0.3-2.9l0.4-3l0.3-3l0.4-3l0.3-2.9l0.4-3l0.4-3l0.3-3l0.4-2.9l0.3-3l0.4-3l0.3-3l0.3-3l0.4-2.9l0.3-3l0.4-3l0.3-3l0.4-2.9l0.3-3l0.4-3l0.3-3l0.4-3l0.3-2.9l0.4-3l0.3-3l0.4-3l0.3-3l0.4-2.9l0.3-3l0.4-3l0.3-3l0.4-3l0.3-2.9l0.4-3l0.3-3l0.4-3l0.3-3l0.4-2.9l0.3-3l0.4-3l0.3-3l0.4-3l0.3-2.9l0.4-3l0.3-3l0.4-3l0.3-3l0.4-3l0.3-2.9l0.4-3l0.4-3l0.3-3l0.4-3l0.3-3l0.4-2.9l0.3-3l0.4-3l0.3-3l0.4-3l0.3-3l0.4-2.9l0.3-3l0.4-3l0.4-3l0.3-3l0.4-3l0.3-2.9l0.4-3l0.3-3l0.4-3l0.3-3l0.4-3l0.4-2.9l0.3-3l0.4-3l0.3-3l0.4-3l0.3-3l0.4-2.9l0.4-3l0.3-3l0.4-3l0.3-3l0.4-3l0.4-2.9l0.3-3l0.4-3l0.4-3l0.3-3l0.4-3l0.3-3l0.4-2.9l0.4-3l0.3-3l0.4-3l0.4-3l0.3-3l0.4-2.9l0.4-3l0.3-3l0.4-3l0.4-3l0.3-2.9l0.4-3l0.4-3l0.3-3l0.4-3l0.4-3l0.3-2.9l0.4-3l0.4-3l0.3-3l0.4-3l0.4-3l0.4-2.9l0.3-3l0.4-3l0.4-3l0.3-3l0.4-2.9l0.4-3l0.4-3l0.3-3l0.4-3l0.4-2.9l0.4-3l0.4-3l0.3-3l0.4-3l0.4-2.9l0.4-3l0.3-3l0.4-3l0.4-2.9l0.4-3l0.4-3l0.4-3l0.3-3l0.4-2.9l0.4-3l0.4-3l0.4-3l0.4-2.9l0.3-3l0.4-3l0.4-3l0.4-2.9l0.4-3l0.4-3l0.4-3l0.4-2.9l0.3-3l0.4-3l0.4-3l0.4-2.9l0.4-3l0.4-3l0.4-3l0.4-2.9l0.4-3l0.4-3l0.4-2.9l0.4-3l0.4-3l0.4-3l0.4-2.9l0.4-3l0.4-3l0.4-2.9l0.4-3l0.4-3l0.4-2.9l0.4-3l0.4-3l0.4-2.9l0.4-3l0.4-3l0.4-2.9l0.4-3l0.4-3l0.4-2.9l0.4-3l0.5-3l0.4-2.9l0.4-3l0.4-3l0.4-2.9l0.4-3l0.4-2.9l0.4-3l0.5-3l0.4-2.9l0.4-3l0.4-2.9l0.4-3l0.4-3l0.5-2.9l0.4-3l0.4-2.9l0.4-3l0.5-3l0.4-2.9l0.4-3l0.4-2.9l0.5-3l0.4-3l0.4-2.9l0.5-3l0.4-2.9l0.4-3l0.5-2.9l0.4-3l0.5-3l0.4-2.9l0.4-3l0.5-2.9l0.4-3l0.5-3l0.4-2.9l0.5-3l0.4-2.9l0.5-3l0.4-2.9l0.5-3l0.5-3l0.4-2.9l0.5-3l0.4-2.9l0.5-3l0.5-3l0.4-2.9l0.5-3l0.5-2.9l0.5-3l0.4-3l0.5-2.9l0.5-3l0.5-3l0.5-2.9l0.4-3l0.5-2.9l0.5-3l0.5-3l0.5-2.9l0.5-3l0.5-3l0.5-2.9l0.5-3l0.5-3l0.5-2.9l0.5-3l0.6-3l0.5-2.9l0.5-3l0.5-3l0.5-3l0.6-2.9l0.5-3l0.5-3l0.6-2.9l0.5-3l0.5-3l0.6-3l0.5-3l0.6-2.9l0.5-3l0.6-3l0.5-3l0.6-2.9l0.5-3l0.6-3l0.6-3l0.5-3l0.6-3l0.6-2.9l0.5-3l0.6-3l0.6-3l0.5-3l0.6-3l0.5-2.9l0.5-3l0.5-3l0.6-3l0.5-3l0.4-2.9l0.5-3l0.5-3l0.4-2.9l0.4-3l0.4-2.9l0.4-3l0.4-2.9l0.3-3l0.4-2.9l0.3-3l0.3-2.9l0.3-2.9l0.3-3l0.3-2.9l0.3-2.9l0.4-2.9l0.3-2.9l0.5-2.9l0.4-2.9l0.6-2.9l0.6-2.9l0.6-2.8l0.8-2.9l0.8-2.8l0.9-2.9l1-2.8l1.1-2.9l1.2-2.8l1.3-2.8l1.5-2.8l1.6-2.7l1.8-2.5l1.9-2.1l2.2-1.6l2.4-1l2.6-0.3l2.8-0.2l2.9-1l2.9-1.5l2.8-1.8l2.6-1.8l2.5-1.9l2.4-2l2.2-2.1l2.2-2.2l1.9-2.3l1.9-2.3l1.7-2.4l1.5-2.5l1.5-2.5l1.3-2.6l1.2-2.7l1.1-2.7l1-2.7l1-2.8l0.9-2.8l0.9-2.9l0.8-2.9l0.9-2.9l0.9-2.9l0.9-3l0.9-2.9l1-3l1.1-3l1.1-3l1.3-3l1.4-2.8l1.5-2.6l1.6-2.2l1.8-1.5l2-0.8l2 0.1l1.7 1.1l1.5 1.9l1.2 2.6l1 2.9l1 2.9l1 3l0.9 3l1 2.9l0.9 3l0.8 3l0.9 2.9l0.8 3l0.8 2.9l0.8 3l0.8 3l0.7 2.9l0.7 3l0.7 2.9l0.7 3l0.7 2.9l0.6 3l0.7 3l0.6 2.9l0.6 3l0.6 2.9l0.6 3l0.5 2.9l0.6 3l0.5 2.9l0.6 2.9l0.5 3l0.5 2.9l0.6 3l0.5 2.9l0.5 3l0.5 2.9l0.5 3l0.5 2.9l0.5 3l0.5 2.9l0.5 3l0.5 2.9l0.5 2.9l0.4 3l0.5 2.9l0.5 3l0.5 2.9l0.5 3l0.5 2.9l0.5 3l0.5 2.9l0.5 3l0.5 2.9l0.5 3l0.5 2.9l0.5 2.9l0.5 3l0.5 2.9l0.5 3l0.5 2.9l0.5 3l0.5 2.9l0.6 3l0.5 2.9l0.5 3l0.5 2.9l0.5 3l0.5 2.9l0.5 3l0.5 2.9l0.5 2.9l0.6 3l0.5 2.9l0.5 3l0.5 2.9l0.5 3l0.5 2.9l0.6 3l0.5 2.9l0.5 3l0.5 2.9l0.6 3l0.5 2.9l0.5 3l0.6 2.9l0.5 2.9l0.5 3l0.6 2.9l0.5 3l0.5 2.9l0.6 3l0.5 2.9l0.5 3l0.6 2.9l0.5 3l0.6 2.9l0.5 3l0.6 2.9l0.5 2.9l0.6 3l0.5 2.9l0.6 3l0.6 2.9l0.5 3l0.6 2.9l0.5 3l0.6 2.9l0.6 3l0.5 2.9l0.6 3l0.6 2.9l0.6 2.9l0.5 3l0.6 2.9l0.6 3l0.6 2.9l0.6 3l0.5 2.9l0.6 3l0.6 2.9l0.6 2.9l0.6 3l0.6 2.9l0.6 3l0.6 2.9l0.6 3l0.6 2.9l0.6 2.9l0.6 3l0.6 2.9l0.7 3l0.6 2.9l0.6 3l0.6 2.9l0.6 2.9l0.7 3l0.6 2.9l0.6 3l0.7 2.9l0.6 3l0.6 2.9l0.7 2.9l0.6 3l0.7 2.9l0.6 3l0.6 2.9l0.7 2.9l0.6 3l0.7 2.9l0.6 3l0.7 2.9l0.6 2.9l0.7 3l0.7 2.9l0.6 3l0.7 2.9l0.6 2.9l0.7 3l0.7 2.9l0.6 2.9l0.7 3l0.7 2.9l0.6 3l0.7 2.9l0.7 2.9l0.6 3l0.7 2.9l0.7 2.9l0.7 3l0.6 2.9l0.7 3l0.7 2.9l0.7 2.9l0.6 3l0.7 2.9l0.7 2.9l0.7 3l0.7 2.9l0.6 2.9l0.7 3l0.7 2.9l0.7 3l0.7 2.9l0.6 2.9l0.7 3l0.7 2.9l0.7 2.9l0.7 3l0.6 2.9l0.7 2.9l0.7 3l0.7 2.9l0.7 2.9l0.7 3l0.6 2.9l0.7 2.9l0.7 3l0.7 2.9l0.7 2.9l0.6 3l0.7 2.9l0.7 2.9l0.7 2.9l0.7 3l0.6 2.9l0.7 2.9l0.7 3l0.7 2.9l0.6 2.9l0.7 3l0.7 2.9l0.6 2.9l0.7 3l0.7 2.9l0.7 2.9l0.6 2.9l0.7 3l0.7 2.9l0.6 2.9l0.7 3l0.7 2.9l0.6 2.9l0.7 2.9l0.6 3l0.7 2.9l0.6 2.9l0.7 3l0.7 2.9l0.6 2.9l0.7 2.9l0.6 3l0.7 2.9l0.6 2.9l0.6 2.9l0.7 3l0.6 2.9l0.7 2.9l0.6 2.9l0.7 3l0.6 2.9l0.6 2.9l0.7 2.9l0.6 3l0.7 2.9l0.6 2.9l0.6 2.9l0.7 3l0.6 2.9l0.6 2.9l0.7 2.9l0.6 3l0.7 2.9l0.6 2.9l0.6 2.9l0.7 3l0.6 2.9l0.6 2.9l0.7 2.9l0.6 2.9l0.6 3l0.7 2.9l0.6 2.9l0.6 2.9l0.7 3l0.6 2.9l0.6 2.9l0.7 2.9l0.6 2.9l0.6 3l0.7 2.9l0.6 2.9l0.6 2.9l0.7 2.9l0.6 2.9l0.6 3l0.7 2.9l0.6 2.9l0.6 2.9l0.7 2.9l0.6 3l0.7 2.9l0.6 2.9l0.6 2.9l0.7 2.9l0.6 2.9l0.7 3l0.6 2.9l0.7 2.9l0.6 2.9l0.7 2.9l0.6 2.9l0.7 3l0.6 2.9l0.7 2.9l0.6 2.9l0.7 2.9l0.6 2.9l0.7 2.9l0.6 3l0.7 2.9l0.7 2.9l0.6 2.9l0.7 2.9l0.7 2.9l0.6 2.9l0.7 3l0.7 2.9l0.6 2.9l0.7 2.9l0.7 2.9l0.7 2.9l0.7 2.9l0.6 2.9l0.7 3l0.7 2.9l0.7 2.9l0.7 2.9l0.7 2.9l0.7 2.9l0.7 2.9l0.7 2.9l0.7 2.9l0.7 2.9l0.7 3l0.7 2.9l0.7 2.9l0.7 2.9l0.7 2.9l0.8 2.9l0.7 2.9l0.8 2.9l0.7 2.9l0.8 2.9l0.7 2.9l0.8 2.9l0.8 2.9l0.8 2.9l0.8 2.8l0.9 2.9l0.8 2.9l0.8 2.9l0.9 2.8l0.9 2.9l0.9 2.9l0.9 2.8l0.9 2.9l0.9 2.9l1 2.8l0.9 2.9l1 2.8l1 2.8l1 2.9l1.1 2.8l1.1 2.8l1 2.8l1.1 2.8l1.2 2.8l1.1 2.8l1.2 2.8l1.2 2.8l1.2 2.8l1.2 2.8l1.3 2.7l1.3 2.8l1.3 2.8l1.3 2.7l1.4 2.8l1.4 2.7l1.4 2.7l1.5 2.7l1.5 2.7l1.5 2.7l1.5 2.7l1.5 2.7l1.6 2.7l1.5 2.7l1.6 2.7l1.6 2.6l1.5 2.7l1.6 2.6l1.6 2.7l1.6 2.6l1.6 2.6l1.6 2.7l1.5 2.6l1.6 2.6l1.6 2.6l1.5 2.6l1.5 2.6l1.5 2.6l1.5 2.6l1.5 2.6l1.4 2.5l1.4 2.6l1.4 2.6l1.5 2.5l1.3 2.6l1.4 2.5l1.4 2.6l1.4 2.5l1.4 2.5l1.3 2.6l1.4 2.5l1.4 2.5l1.4 2.5l1.4 2.5l1.4 2.6l1.4 2.5l1.5 2.5l1.5 2.5l1.4 2.4l1.5 2.5l1.6 2.5l1.5 2.5l1.6 2.5l1.6 2.5l1.6 2.4l1.7 2.5l1.6 2.4l1.7 2.5l1.7 2.4l1.8 2.5l1.7 2.4l1.8 2.4l1.8 2.4l1.8 2.4l1.9 2.4l1.9 2.4l1.9 2.3l1.9 2.4l1.9 2.3l2 2.3l1.9 2.3l2 2.3l2 2.3l2.1 2.3l2 2.2l2.1 2.3l2.1 2.2l2.1 2.2l2.1 2.2l2.2 2.1l2.1 2.2l2.2 2.1l2.2 2.1l2.2 2.1l2.3 2.1l2.2 2l2.3 2l2.3 2l2.3 2l2.3 2l2.3 1.9l2.4 1.9l2.4 1.9l2.3 1.9l2.4 1.8l2.4 1.8l2.5 1.8l2.4 1.7l2.5 1.8l2.4 1.7l2.5 1.7l2.5 1.6l2.5 1.7l2.6 1.6l2.5 1.6l2.6 1.6l2.5 1.5l2.6 1.5l2.6 1.5l2.6 1.5l2.6 1.5l2.6 1.4l2.7 1.4l2.6 1.4l2.7 1.4l2.7 1.3l2.6 1.3l2.7 1.3l2.7 1.3l2.7 1.3l2.8 1.2l2.7 1.2l2.7 1.2l2.8 1.2l2.8 1.1l2.7 1.1l2.8 1.1l2.8 1.1l2.8 1.1l2.8 1l2.8 1.1l2.8 1l2.8 0.9l2.9 1l2.8 0.9l2.8 0.9l2.9 0.9l2.8 0.9l2.9 0.9l2.9 0.8l2.9 0.8l2.8 0.8l2.9 0.8l2.9 0.8l2.9 0.7l2.9 0.8l2.9 0.7l2.9 0.7l3 0.7l2.9 0.6l2.9 0.7l2.9 0.6l3 0.6l2.9 0.6l3 0.6l2.9 0.6l3 0.6l2.9 0.5l3 0.5l2.9 0.6l3 0.5l3 0.5l2.9 0.4l3 0.5l3 0.5l3 0.4l2.9 0.4l3 0.4l3 0.4l3 0.4l3 0.4l2.9 0.4l3 0.4l3 0.3l3 0.4l3 0.3l3 0.3l3 0.3l2.9 0.4l3 0.3l3 0.2l3 0.3l3 0.3l3 0.3l3 0.2l3 0.3l3 0.2l2.9 0.3l3 0.2l3 0.3l3 0.2l3 0.2l3 0.2l3 0.2l3 0.2l3 0.2l3 0.2l3 0.2l2.9 0.2l3 0.2l3 0.2l3 0.2l3 0.2l3 0.2l3 0.1l3 0.2l3 0.2l3 0.2l3 0.1l3 0.2l2.9 0.2l3 0.2l3 0.1l3 0.2l3 0.2l3 0.2l3 0.1l3 0.2l3 0.2l3 0.2l3 0.2l3 0.2l2.9 0.2l3 0.2l3 0.1l3 0.2l3 0.2l3 0.2l3 0.2l3 0.2l3 0.2l3 0.3l3 0.2l2.9 0.2l3 0.2l3 0.2l3 0.2l3 0.2l3 0.2l3 0.2l3 0.3l3 0.2l3 0.2l2.9 0.2l3 0.2l3 0.2l3 0.3l3 0.2l3 0.2l3 0.2l3 0.3l3 0.2l3 0.2l3 0.2l2.9 0.2l3 0.3l3 0.2l3 0.2l3 0.3l3 0.2l3 0.2l3 0.2l3 0.3l3 0.2l2.9 0.2l3 0.2l3 0.3l3 0.2l3 0.2l3 0.2l3 0.3l3 0.2l3 0.2l3 0.2l3 0.2l3 0.3l2.9 0.2l3 0.2l3 0.2l3 0.2l3 0.3l3 0.2l3 0.2l3 0.2l3 0.2l3 0.2l3 0.2l3 0.3l2.9 0.2l3 0.2l3 0.2l3 0.2l3 0.2l3 0.2l3 0.2l3 0.2l3 0.2l3 0.2l3 0.2l3 0.2l3 0.2l3 0.1l3 0.2l2.9 0.2l3 0.2l3 0.2l3 0.2l3 0.2l3 0.1l3 0.2l3 0.2l3 0.2l3 0.1l3 0.2l3 0.2l3 0.2l3 0.1l3 0.2l3 0.2l3 0.1l3 0.2l3 0.2l2.9 0.1l3 0.2l3 0.1l3 0.2l3 0.1l3 0.2l3 0.1l3 0.2l3 0.1l3 0.2l3 0.1l3 0.2l3 0.1l3 0.2l3 0.1l3 0.2l3 0.1l3 0.1l3 0.2l3 0.1l3 0.1l3 0.2l3 0.1l3 0.1l3 0.1l3 0.2l3 0.1l3 0.1l3 0.1l3 0.2l3 0.1l3 0.1l3 0.1l3 0.1l3 0.1l3 0.1l3 0.2l2.9 0.1l3 0.1l3 0.1l3 0.1l3 0.1l3 0.1l3 0.1l3 0.1l3 0.1l3 0.1l3 0.1l3 0.1l3 0.1l3 0.1l3 0l3 0.1l3 0.1l3 0.1l3 0.1l3 0.1l3 0l3 0.1l3 0.1l3 0.1l3 0.1l3 0l3 0.1l3 0.1l3 0l3 0.1l3 0.1l3 0l3 0.1l3 0.1l3 0l3 0.1l3 0.1l3 0l3 0.1l3 0l3 0.1l3 0l3 0.1l3 0l3 0.1l3 0l3 0.1l3 0l3 0.1l3 0l3 0l3 0.1l3 0l3 0l3 0.1l3 0l3 0l3 0.1l3 0l3 0l3 0.1l3 0l3 0l3 0l3.1 0.1l3 0l3 0l3 0l3 0l3 0l3 0l3 0.1l3 0l3 0l3 0l3 0l3 0l3 0l3 0l3 0l3 0l3 0l3 0l3 0l3 0l3 0l3 0l3 0l3-0.1l3 0l3 0l3 0l3 0l3 0l3 0l3-0.1l3 0l3 0l3 0l3-0.1l3 0l3 0l3-0.1l3 0l3 0l3-0.1l3 0l3 0l3-0.1l3 0" stroke="#ff00ff" stroke-width="7" fill="none" stroke-linejoin="miter" stroke-miterlimit="3" stroke-linecap="butt"/>
<path d="M176.5 1535.3l2.9 0l3 0l2.9 0l3 0l2.9 0l3 0l2.9 0l3 0l2.9 0l3 0l2.9 0l3 0l2.9 0l3 0l3 0l2.9 0l3 0l3 0l3 0l2.9 0l3 0l3 0l3 0l2.9 0l3 0l3 0l3 0l3 0l3 0l3 0l3 0l3 0l2.9 0l3 0l3 0l3 0l3 0l3 0l3 0l3.1 0l3 0l3 0.1l3 0l3 0l3 0l3 0l3 0l3 0l3 0l3.1 0l3 0l3 0l3 0l3 0l3 0l3.1 0l3 0l3 0l3 0l3 0l3.1 0l3 0l3 0l3 0l3.1 0l3 0l3 0l3 0l3.1 0l3 0l3 0l3.1 0l3 0l3 0l3 0l3.1 0l3 0l3-0.1l3.1 0l3 0l3 0l3 0l3.1 0l3 0l3 0l3.1 0l3-0.1l3 0l3.1 0l3 0l3 0l3 0l3.1-0.1l3 0l3 0l3-0.1l3.1 0l3 0l3-0.1l3 0l3.1 0l3-0.1l3 0l3-0.1l3.1 0l3-0.1l3-0.1l3 0l3.1-0.1l3-0.1l3-0.1l3-0.1l3 0l3-0.1l3.1-0.1l3-0.1l3-0.2l3-0.1l3-0.1l3-0.1l3-0.2l3-0.1l3-0.1l3-0.2l3-0.2l3-0.1l3-0.2l3-0.2l3-0.2l3-0.1l3-0.2l3-0.3l3-0.2l3-0.2l3-0.2l3-0.3l3-0.2l3-0.3l3-0.2l2.9-0.3l3-0.3l3-0.3l3-0.3l3-0.3l2.9-0.3l3-0.3l3-0.4l2.9-0.3l3-0.4l3-0.3l2.9-0.4l3-0.4l3-0.4l2.9-0.4l3-0.4l2.9-0.5l3-0.4l2.9-0.5l3-0.4l2.9-0.5l3-0.5l2.9-0.5l2.9-0.5l3-0.5l2.9-0.5l3-0.6l2.9-0.6l2.9-0.5l2.9-0.6l3-0.6l2.9-0.6l2.9-0.6l2.9-0.7l2.9-0.6l2.9-0.7l2.9-0.7l2.9-0.7l2.9-0.7l2.9-0.7l2.9-0.7l2.9-0.8l2.9-0.7l2.9-0.8l2.9-0.8l2.9-0.8l2.9-0.8l2.8-0.9l2.9-0.8l2.9-0.9l2.8-0.9l2.9-0.9l2.9-0.9l2.8-0.9l2.9-1l2.8-0.9l2.9-1l2.8-1l2.9-1l2.8-1l2.8-1.1l2.9-1l2.8-1.1l2.8-1.1l2.8-1.1l2.9-1.1l2.8-1.1l2.8-1.1l2.8-1.2l2.8-1.1l2.8-1.2l2.8-1.2l2.8-1.2l2.8-1.2l2.8-1.2l2.8-1.2l2.7-1.2l2.8-1.2l2.8-1.3l2.8-1.2l2.7-1.3l2.8-1.2l2.7-1.3l2.8-1.2l2.7-1.3l2.8-1.3l2.7-1.3l2.8-1.3l2.7-1.3l2.7-1.2l2.7-1.3l2.8-1.4l2.7-1.3l2.7-1.3l2.7-1.3l2.7-1.3l2.7-1.3l2.7-1.4l2.7-1.3l2.7-1.4l2.6-1.3l2.7-1.4l2.7-1.3l2.7-1.4l2.6-1.4l2.7-1.3l2.6-1.4l2.7-1.4l2.6-1.4l2.7-1.4l2.6-1.4l2.6-1.4l2.7-1.5l2.6-1.4l2.6-1.4l2.6-1.5l2.6-1.4l2.6-1.5l2.6-1.4l2.6-1.5l2.6-1.5l2.6-1.5l2.6-1.5l2.5-1.4l2.6-1.6l2.6-1.5l2.5-1.5l2.6-1.5l2.5-1.6l2.5-1.5l2.6-1.6l2.5-1.5l2.5-1.6l2.6-1.6l2.5-1.6l2.5-1.6l2.5-1.6l2.5-1.6l2.5-1.6l2.5-1.6l2.4-1.7l2.5-1.6l2.5-1.7l2.5-1.6l2.4-1.7l2.5-1.7l2.4-1.7l2.5-1.7l2.4-1.7l2.4-1.7l2.5-1.8l2.4-1.7l2.4-1.8l2.4-1.7l2.4-1.8l2.4-1.8l2.4-1.7l2.4-1.8l2.4-1.8l2.4-1.8l2.4-1.8l2.3-1.8l2.4-1.9l2.4-1.8l2.3-1.8l2.4-1.9l2.4-1.8l2.3-1.9l2.4-1.8l2.3-1.9l2.3-1.9l2.4-1.8l2.3-1.9l2.4-1.9l2.3-1.9l2.3-1.9l2.4-1.9l2.3-1.9l2.3-1.9l2.3-1.9l2.4-1.9l2.3-1.9l2.3-2l2.3-1.9l2.3-1.9l2.3-1.9l2.3-2l2.4-1.9l2.3-1.9l2.3-2l2.3-1.9l2.3-1.9l2.3-2l2.3-1.9l2.3-2l2.3-1.9l2.3-2l2.3-1.9l2.3-1.9l2.3-2l2.3-1.9l2.3-2l2.3-1.9l2.4-2l2.3-1.9l2.3-1.9l2.3-2l2.3-1.9l2.3-2l2.3-1.9l2.3-1.9l2.3-2l2.4-1.9l2.3-1.9l2.3-1.9l2.3-2l2.4-1.9l2.3-1.9l2.3-1.9l2.3-1.9l2.4-1.9l2.3-1.9l2.4-1.9l2.3-1.9l2.3-1.9l2.4-1.9l2.3-1.9l2.4-1.9l2.4-1.8l2.3-1.9l2.4-1.9l2.4-1.8l2.3-1.9l2.4-1.8l2.4-1.8l2.4-1.9l2.4-1.8l2.4-1.8l2.4-1.8l2.4-1.8l2.4-1.8l2.4-1.8l2.4-1.8l2.4-1.8l2.5-1.7l2.4-1.8l2.4-1.7l2.5-1.8l2.4-1.7l2.5-1.7l2.4-1.7l2.5-1.7l2.5-1.7l2.5-1.7l2.5-1.7l2.4-1.7l2.5-1.6l2.5-1.7l2.6-1.6l2.5-1.6l2.5-1.6l2.5-1.6l2.6-1.6l2.5-1.6l2.6-1.6l2.5-1.6l2.6-1.5l2.6-1.5l2.6-1.6l2.6-1.5l2.6-1.5l2.6-1.5l2.6-1.4l2.6-1.5l2.7-1.4l2.6-1.5l2.7-1.4l2.6-1.4l2.7-1.4l2.7-1.4l2.7-1.3l2.7-1.4l2.7-1.3l2.7-1.3l2.7-1.3l2.8-1.3l2.7-1.3l2.8-1.2l2.7-1.3l2.8-1.2l2.8-1.2l2.8-1.2l2.8-1.1l2.8-1.1l2.8-1.1l2.8-1.1l2.9-1l2.8-0.9l2.9-1l2.8-0.8l2.9-0.9l2.8-0.8l2.9-0.7l2.9-0.7l2.9-0.6l2.9-0.6l2.9-0.5l2.9-0.5l2.9-0.5l2.9-0.5l2.9-0.4l2.9-0.3l2.9-0.4l3-0.3l2.9-0.3l2.9-0.3l2.9-0.3l3-0.3l2.9-0.3l2.9-0.4l3-0.3l2.9-0.5l3-0.5l2.9-0.5l2.9-0.6l3-0.7l2.9-0.7l2.9-0.7l3-0.8l2.9-0.9l2.9-0.9l3-0.9l2.9-0.9l2.9-0.9l3-1l2.9-0.9l2.9-1l2.9-0.9l2.9-0.9l2.9-1l2.9-0.8l2.9-0.9l2.9-0.9l2.9-0.8l2.9-0.8l2.9-0.9l2.9-0.8l2.9-0.8l2.9-0.7l2.9-0.8l2.9-0.8l2.9-0.7l2.9-0.8l2.9-0.7l2.9-0.8l2.9-0.7l2.9-0.6l2.9-0.6l2.9-0.5l2.9-0.4l3-0.3l2.9-0.2l2.9-0.1l3 0l2.9 0.2l3 0.3l2.9 0.5l2.9 0.5l2.9 0.7l2.9 0.7l2.9 0.9l2.9 1l2.8 1l2.8 1.2l2.8 1.2l2.7 1.3l2.7 1.4l2.7 1.4l2.6 1.5l2.6 1.6l2.5 1.6l2.5 1.7l2.5 1.7l2.5 1.8l2.4 1.8l2.4 1.8l2.4 1.9l2.3 1.9l2.4 1.9l2.3 1.9l2.3 1.9l2.3 1.9l2.3 2l2.2 2l2.3 1.9l2.2 2l2.2 2l2.2 2.1l2.2 2l2.2 2.1l2.1 2l2.1 2.1l2.2 2.1l2.1 2.1l2.1 2.1l2 2.1l2.1 2.2l2.1 2.1l2 2.2l2 2.2l2.1 2.2l2 2.2l1.9 2.2l2 2.2l2 2.3l2 2.2l1.9 2.3l1.9 2.3l2 2.2l1.9 2.3l1.9 2.4l1.9 2.3l1.9 2.3l1.9 2.4l1.8 2.3l1.9 2.4l1.9 2.4l1.8 2.3l1.8 2.4l1.9 2.4l1.8 2.5l1.8 2.4l1.8 2.4l1.8 2.4l1.8 2.5l1.8 2.4l1.8 2.5l1.8 2.4l1.8 2.5l1.7 2.5l1.8 2.4l1.8 2.5l1.7 2.5l1.8 2.4l1.7 2.5l1.8 2.5l1.7 2.5l1.7 2.4l1.8 2.5l1.7 2.5l1.7 2.5l1.8 2.4l1.7 2.5l1.7 2.4l1.7 2.5l1.8 2.5l1.7 2.4l1.7 2.4l1.7 2.5l1.7 2.4l1.8 2.4l1.7 2.5l1.7 2.4l1.7 2.4l1.8 2.4l1.7 2.4l1.8 2.4l1.7 2.3l1.8 2.4l1.7 2.4l1.8 2.4l1.8 2.3l1.8 2.4l1.8 2.3l1.8 2.3l1.9 2.4l1.8 2.3l1.9 2.3l1.8 2.3l1.9 2.3l1.9 2.3l1.9 2.3l2 2.2l1.9 2.3l2 2.3l2 2.2l2 2.3l2.1 2.2l2 2.2l2.1 2.3l2.1 2.2l2.1 2.2l2.2 2.2l2.2 2.1l2.2 2.2l2.2 2.2l2.2 2.1l2.3 2.2l2.4 2.1l2.3 2.1l2.4 2.1l2.4 2.1l2.4 1.9l2.5 1.9l2.5 1.8l2.6 1.7l2.6 1.5l2.6 1.4l2.7 1.2l2.7 1.1l2.7 0.8l2.7 0.7l2.7 0.4l2.8 0.1l2.7-0.1l2.8-0.3l2.7-0.6l2.7-0.8l2.6-1l2.7-1.2l2.5-1.4l2.5-1.6l2.5-1.8l2.4-1.8l2.3-2l2.2-2l2.1-2.2l2.1-2.1l1.9-2.3l1.9-2.3l1.8-2.3l1.8-2.4l1.7-2.5l1.6-2.5l1.5-2.6l1.5-2.6l1.4-2.6l1.4-2.7l1.3-2.7l1.2-2.7l1.2-2.8l1.2-2.8l1.1-2.9l1.1-2.8l1-2.9l1-2.9l1-2.9l0.9-2.9l0.9-3l0.9-2.9l0.8-3l0.9-2.9l0.8-3l0.8-3l0.7-2.9l0.8-3l0.8-2.9l0.7-2.9l0.7-3l0.8-2.9l0.7-2.9l0.7-3l0.6-2.9l0.7-2.9l0.7-2.9l0.7-2.9l0.6-3l0.6-2.9l0.7-2.9l0.6-2.9l0.6-2.9l0.6-2.9l0.6-2.9l0.6-2.9l0.6-3l0.6-2.9l0.6-2.9l0.6-2.9l0.6-2.9l0.5-3l0.6-2.9l0.6-2.9l0.5-2.9l0.6-3l0.5-2.9l0.6-2.9l0.5-3l0.6-2.9l0.5-3l0.5-2.9l0.6-3l0.5-2.9l0.5-3l0.5-2.9l0.6-3l0.5-2.9l0.5-3l0.5-2.9l0.5-3l0.5-2.9l0.5-3l0.5-3l0.5-2.9l0.5-3l0.5-3l0.4-2.9l0.5-3l0.5-3l0.5-2.9l0.4-3l0.5-3l0.5-3l0.4-2.9l0.5-3l0.5-3l0.4-3l0.5-2.9l0.4-3l0.5-3l0.4-3l0.5-3l0.4-2.9l0.4-3l0.5-3l0.4-3l0.5-2.9l0.4-3l0.4-3l0.4-3l0.5-3l0.4-2.9l0.4-3l0.4-3l0.5-3l0.4-2.9l0.4-3l0.4-3l0.4-3l0.4-3l0.4-2.9l0.4-3l0.4-3l0.5-3l0.4-3l0.4-2.9l0.4-3l0.3-3l0.4-3l0.4-2.9l0.4-3l0.4-3l0.4-3l0.4-3l0.4-2.9l0.4-3l0.3-3l0.4-3l0.4-3l0.4-2.9l0.4-3l0.3-3l0.4-3l0.4-2.9l0.3-3l0.4-3l0.4-3l0.3-3l0.4-2.9l0.4-3l0.3-3l0.4-3l0.4-3l0.3-2.9l0.4-3l0.3-3l0.4-3l0.3-3l0.4-2.9l0.4-3l0.3-3l0.4-3l0.3-3l0.3-2.9l0.4-3l0.3-3l0.4-3l0.3-3l0.4-2.9l0.3-3l0.4-3l0.3-3l0.3-3l0.4-2.9l0.3-3l0.3-3l0.4-3l0.3-3l0.4-2.9l0.3-3l0.3-3l0.3-3l0.4-3l0.3-3l0.3-2.9l0.4-3l0.3-3l0.3-3l0.4-3l0.3-3l0.3-2.9l0.3-3l0.4-3l0.3-3l0.3-3l0.3-3l0.3-2.9l0.4-3l0.3-3l0.3-3l0.3-3l0.4-3l0.3-2.9l0.3-3l0.3-3l0.3-3l0.3-3l0.4-3l0.3-3l0.3-2.9l0.3-3l0.3-3l0.4-3l0.3-3l0.3-3l0.3-3l0.3-2.9l0.3-3l0.4-3l0.3-3l0.3-3l0.3-3l0.3-3l0.3-3l0.3-2.9l0.4-3l0.3-3l0.3-3l0.3-3l0.3-3l0.3-3l0.4-3l0.3-3l0.3-2.9l0.3-3l0.3-3l0.3-3l0.4-3l0.3-3l0.3-3l0.3-3l0.3-3l0.3-3l0.4-3l0.3-2.9l0.3-3l0.3-3l0.3-3l0.4-3l0.3-3l0.3-3l0.3-3l0.3-3l0.4-3l0.3-2.9l0.3-3l0.3-3l0.4-3l0.3-3l0.3-3l0.3-3l0.4-3l0.3-3l0.3-2.9l0.4-3l0.3-3l0.3-3l0.4-3l0.3-3l0.3-3l0.4-3l0.3-2.9l0.3-3l0.4-3l0.3-3l0.4-3l0.3-3l0.3-3l0.4-2.9l0.3-3l0.4-3l0.3-3l0.4-3l0.3-3l0.4-2.9l0.3-3l0.4-3l0.3-3l0.4-3l0.3-2.9l0.4-3l0.3-3l0.4-3l0.4-3l0.3-2.9l0.4-3l0.4-3l0.3-3l0.4-2.9l0.4-3l0.3-3l0.4-2.9l0.4-3l0.4-3l0.3-3l0.4-2.9l0.4-3l0.4-3l0.4-2.9l0.3-3l0.4-3l0.4-2.9l0.4-3l0.4-3l0.4-2.9l0.4-3l0.4-3l0.3-2.9l0.4-3l0.4-3l0.4-3l0.4-2.9l0.4-3l0.4-3l0.4-3l0.4-2.9l0.4-3l0.4-3l0.4-3l0.3-3l0.4-2.9l0.4-3l0.4-3l0.4-3l0.4-3l0.4-3l0.4-3l0.3-3l0.4-3l0.4-3l0.4-3l0.4-3l0.4-3l0.4-3l0.5-3l0.4-3l0.5-3l0.6-2.9l0.5-3l0.7-2.9l0.6-2.9l0.7-2.9l0.8-2.9l0.8-2.9l0.8-2.8l0.9-2.8l1-2.8l1.1-2.7l1.1-2.7l1.2-2.7l1.3-2.7l1.4-2.6l1.5-2.6l1.5-2.5l1.7 2.8l1.5 2.8l1.3 2.8l1.1 2.8l1 2.9l0.8 2.8l0.6 2.9l0.6 2.8l0.5 2.9l0.4 2.9l0.3 2.9l0.4 2.9l0.3 2.9l0.3 2.9l0.3 2.9l0.3 2.9l0.3 3l0.3 2.9l0.3 2.9l0.3 3l0.3 2.9l0.2 3l0.3 3l0.3 2.9l0.3 3l0.3 3l0.2 3l0.3 3l0.2 2.9l0.3 3l0.2 3l0.3 3l0.2 3l0.2 3.1l0.3 3l0.2 3l0.2 3l0.2 3l0.2 3l0.2 3l0.2 3.1l0.2 3l0.2 3l0.2 3l0.2 3l0.2 3.1l0.2 3l0.2 3l0.2 3l0.2 3.1l0.1 3l0.2 3l0.2 3l0.2 3l0.2 3.1l0.2 3l0.1 3l0.2 3l0.2 3l0.2 3l0.2 3l0.1 3l0.2 3l0.2 3l0.2 3.1l0.1 3l0.2 3l0.2 3l0.2 3l0.1 3l0.2 3l0.2 3l0.2 3l0.1 3l0.2 3l0.2 2.9l0.1 3l0.2 3l0.2 3l0.1 3l0.2 3l0.1 3l0.2 3l0.2 3l0.1 3l0.2 3l0.2 3l0.1 2.9l0.2 3l0.1 3l0.2 3l0.1 3l0.2 3l0.2 3l0.1 3l0.2 3l0.1 2.9l0.2 3l0.1 3l0.2 3l0.1 3l0.2 3l0.1 3l0.1 2.9l0.2 3l0.1 3l0.2 3l0.1 3l0.2 3l0.1 3l0.1 3l0.2 2.9l0.1 3l0.2 3l0.1 3l0.1 3l0.2 3l0.1 3l0.1 3l0.2 3l0.1 2.9l0.1 3l0.2 3l0.1 3l0.1 3l0.1 3l0.2 3l0.1 3l0.1 3l0.1 3l0.2 3l0.1 3l0.1 3l0.1 3l0.2 3l0.1 2.9l0.1 3l0.1 3l0.1 3l0.2 3l0.1 3l0.1 3l0.1 3l0.1 3l0.2 3l0.1 3l0.1 3l0.1 3l0.1 3l0.1 3l0.2 3l0.1 3l0.1 3l0.1 3l0.1 3l0.1 3l0.2 3l0.1 3l0.1 3l0.1 3l0.1 3l0.1 3l0.2 3l0.1 3l0.1 3l0.1 3l0.1 3l0.1 3l0.1 3l0.2 3l0.1 3l0.1 3l0.1 3l0.1 3l0.1 3l0.2 3l0.1 3l0.1 3l0.1 3l0.1 3l0.2 3l0.1 3l0.1 3l0.1 3l0.1 3l0.2 3.1l0.1 3l0.1 3l0.1 3l0.2 3l0.1 3l0.1 3l0.1 3l0.2 3l0.1 3l0.1 3l0.1 3l0.2 3l0.1 3l0.1 3l0.2 3l0.1 3l0.1 3l0.2 3l0.1 3l0.1 3l0.2 3l0.1 3l0.1 3l0.2 3l0.1 3l0.2 3l0.1 3l0.1 3l0.2 3l0.1 3l0.2 3l0.1 3l0.2 3l0.1 3l0.2 3l0.1 3l0.2 3l0.1 3l0.2 3l0.1 3l0.2 3l0.2 3l0.1 3l0.2 3l0.1 2.9l0.2 3l0.2 3l0.1 3l0.2 3l0.2 3l0.1 3l0.2 3l0.1 3l0.2 3l0.2 3l0.1 3l0.2 3l0.2 3l0.1 3l0.2 3l0.2 3l0.1 3l0.2 3l0.2 3l0.1 3l0.2 3l0.2 2.9l0.1 3l0.2 3l0.2 3l0.1 3l0.2 3l0.1 3l0.2 3l0.2 3l0.1 3l0.2 3l0.2 3l0.1 3l0.2 3l0.1 3l0.2 3l0.1 3l0.2 3l0.2 3l0.1 3l0.2 3l0.1 2.9l0.2 3l0.1 3l0.2 3l0.1 3l0.1 3l0.2 3l0.1 3l0.2 3l0.1 3l0.1 3l0.2 3l0.1 3l0.1 3l0.2 3l0.1 3l0.1 3l0.2 3l0.1 3l0.1 3l0.1 3l0.2 3l0.1 3l0.1 3l0.1 3l0.2 3l0.1 3l0.1 3l0.1 3l0.2 3l0.1 3l0.1 3l0.1 3l0.2 3l0.1 3l0.1 3l0.1 3l0.2 3l0.1 3l0.1 3l0.2 3l0.1 3l0.1 3l0.2 3l0.1 2.9l0.1 3l0.2 3l0.1 3l0.2 3l0.1 3l0.2 3l0.1 3l0.2 3l0.1 3l0.2 3l0.1 3l0.2 3l0.2 3l0.1 2.9l0.2 3l0.2 3l0.2 3l0.1 3l0.2 3l0.2 3l0.2 3l0.2 3l0.2 2.9l0.2 3l0.2 3l0.2 3l0.2 3l0.3 3l0.2 2.9l0.2 3l0.2 3l0.3 3l0.2 3l0.2 3l0.3 3l0.2 2.9l0.3 3l0.2 3l0.3 3l0.2 3l0.3 3l0.3 3l0.2 2.9l0.3 3l0.3 3l0.3 3l0.3 3l0.2 3l0.3 3l0.3 3l0.3 2.9l0.3 3l0.4 3l0.3 3l0.3 3l0.3 3l0.3 3l0.4 3l0.3 3l0.3 3l0.4 3l0.3 3l0.4 3l0.3 3l0.4 3l0.4 3l0.3 3l0.4 3l0.4 3l0.4 3.1l0.4 3l0.4 3l0.4 3l0.4 3l0.4 3l0.4 3.1l0.4 3l0.5 3l0.5 3l0.5 2.9l0.6 3l0.7 2.9l0.7 2.8l0.9 2.7l1 2.7l1.1 2.6l1.3 2.5l1.4 2.4l1.6 2.3l1.8 2.2l2.1 2l2.2 1.9l2.4 1.7l2.7 1.6l3 1.4" stroke="#000000" stroke-width="7" fill="none" stroke-linejoin="miter" stroke-miterlimit="3" stroke-linecap="butt"/>
</g>
<g stroke="#000" fill="none">
<rect x="176.5" y="102.1" width="2049.5" height="1433.4" stroke-width="4"/>
<path d="M176.5 1535.5v-41 M176.5 102.1v41 M424.9 1535.5v-41 M424.9 102.1v41 M673.3 1535.5v-41 M673.3 102.1v41 M921.8 1535.5v-41 M921.8 102.1v41 M1170.2 1535.5v-41 M1170.2 102.1v41 M1418.6 1535.5v-41 M1418.6 102.1v41 M1667 1535.5v-41 M1667 102.1v41 M1915.5 1535.5v-41 M1915.5 102.1v41 M2163.9 1535.5v-41 M2163.9 102.1v41 M300.7 1535.5v-20.5 M300.7 102.1v20.5 M549.1 1535.5v-20.5 M549.1 102.1v20.5 M797.6 1535.5v-20.5 M797.6 102.1v20.5 M1046 1535.5v-20.5 M1046 102.1v20.5 M1294.4 1535.5v-20.5 M1294.4 102.1v20.5 M1542.8 1535.5v-20.5 M1542.8 102.1v20.5 M1791.3 1535.5v-20.5 M1791.3 102.1v20.5 M2039.7 1535.5v-20.5 M2039.7 102.1v20.5 M176.5 1535.5h41 M2226 1535.5h-41 M176.5 1137.3h41 M2226 1137.3h-41 M176.5 739.2h41 M2226 739.2h-41 M176.5 341h41 M2226 341h-41 M176.5 1336.4h20.5 M2226 1336.4h-20.5 M176.5 938.2h20.5 M2226 938.2h-20.5 M176.5 540.1h20.5 M2226 540.1h-20.5 M176.5 141.9h20.5 M2226 141.9h-20.5" stroke-width="3.9"/>
</g>
<path d="M2117 1535.8V100.2" stroke="#000000" stroke-width="6.1" stroke-dasharray="24 13" fill="none"/>
<path d="M2113 1535.8V100.2" stroke="#0000ff" stroke-width="6.1" stroke-dasharray="27.5 14.47" fill="none"/>
<path d="M427.9 1535.8V100.2" stroke="#ff00ff" stroke-width="6.1" stroke-dasharray="27.5 14.47" fill="none"/>
<path d="M583.8 1535.8V100.2" stroke="#ff0000" stroke-width="6.1" stroke-dasharray="27.5 14.47" fill="none"/>
<path d="M697.7 1535.8V100.2" stroke="#00ffff" stroke-width="6.1" stroke-dasharray="27.5 14.47" fill="none"/>
<path d="M1255 1535.8V100.2" stroke="#ff00ff" stroke-width="6.1" stroke-dasharray="27.5 14.47" fill="none"/>
<path d="M1506.1 1535.8V100.2" stroke="#ff0000" stroke-width="6.1" stroke-dasharray="27.5 14.47" fill="none"/>
<text x="176.5" y="1594.8" font-size="56" fill="#000" text-anchor="middle">0</text>
<text x="424.9" y="1594.8" font-size="56" fill="#000" text-anchor="middle">0.2</text>
<text x="673.3" y="1594.8" font-size="56" fill="#000" text-anchor="middle">0.4</text>
<text x="921.8" y="1594.8" font-size="56" fill="#000" text-anchor="middle">0.6</text>
<text x="1170.2" y="1594.8" font-size="56" fill="#000" text-anchor="middle">0.8</text>
<text x="1418.6" y="1594.8" font-size="56" fill="#000" text-anchor="middle">1</text>
<text x="1667" y="1594.8" font-size="56" fill="#000" text-anchor="middle">1.2</text>
<text x="1915.5" y="1594.8" font-size="56" fill="#000" text-anchor="middle">1.4</text>
<text x="2163.9" y="1594.8" font-size="56" fill="#000" text-anchor="middle">1.6</text>
<text x="158.2" y="1554.5" font-size="56" fill="#000" text-anchor="end">0</text>
<text x="158.2" y="1156.3" font-size="56" fill="#000" text-anchor="end">1</text>
<text x="158.2" y="758.2" font-size="56" fill="#000" text-anchor="end">2</text>
<text x="158.2" y="360" font-size="56" fill="#000" text-anchor="end">3</text>
<text transform="translate(831.12 1676.40) scale(1.0136 1)" font-size="85.00" fill="#000">Riemannian Distance</text>
<text transform="translate(91.30 953.28) rotate(-90) scale(1.0064 1)" font-size="85.50" fill="#000">Density</text>
<text transform="translate(708.29 305.60) scale(1.0204 1)" font-size="56.00" fill="#ff00ff">L-F</text>
<text transform="translate(906.48 611.80) scale(1.0224 1)" font-size="56.00" fill="#ff0000">L-6</text>
<text transform="translate(1099.61 650.70) scale(1.0075 1)" font-size="56.00" fill="#00ffff">L-64</text>
<text transform="translate(1694.49 921.60) scale(1.0181 1)" font-size="56.00" fill="#0000ff">L-45</text>
<text transform="translate(1742.16 1198.00) scale(1.0372 1)" font-size="56.00" fill="#000000">L-M</text>
</g>
<text><tspan x="1096.9" y="1865.6" font-size="86.7">(</tspan><tspan x="1124.4" y="1865.4" font-size="85.9" font-weight="bold">a</tspan><tspan x="1165.1" y="1865.6" font-size="86.7">)</tspan></text>
<g id="chart-b">
<clipPath id="clipB"><rect x="201.2" y="1977.4" width="2038.7" height="1431.6"/></clipPath>
<g clip-path="url(#clipB)">
<path d="M403 3403l3 0l3.1 0l3 0l3 0l3 0l3.1 0.1l3 0l3 0l3 0l3 0l3.1 0l3 0l3 0l3 0l3 0l3 0l3 0l3.1 0l3 0l3 0l3 0l3 0l3 0l3 0l3-0.1l3 0l3 0l3 0l3 0l3 0l3 0l3 0l3-0.1l3 0l3 0l3 0l3-0.1l3 0l3 0l3 0l3-0.1l3 0l3 0l3-0.1l3 0l3 0l3-0.1l3 0l2.9-0.1l3 0l3-0.1l3 0l3-0.1l3 0l3-0.1l3 0l3-0.1l3 0l2.9-0.1l3-0.1l3 0l3-0.1l3-0.1l3-0.1l3 0l2.9-0.1l3-0.1l3-0.1l3-0.1l3 0l3-0.1l3-0.1l2.9-0.1l3-0.1l3-0.1l3-0.1l3-0.1l3-0.1l3-0.1l2.9-0.1l3-0.1l3-0.2l3-0.1l3-0.1l3-0.1l2.9-0.1l3-0.2l3-0.1l3-0.1l3-0.2l3-0.1l3-0.1l2.9-0.2l3-0.1l3-0.2l3-0.1l3-0.2l3-0.2l3-0.1l3-0.2l3-0.2l2.9-0.1l3-0.2l3-0.2l3-0.2l3-0.1l3-0.2l3-0.2l3-0.2l3-0.2l3-0.2l3-0.2l2.9-0.2l3-0.2l3-0.2l3-0.3l3-0.2l3-0.2l3-0.2l3-0.3l3-0.2l3-0.2l3-0.3l3-0.2l3-0.3l3-0.2l3-0.3l3-0.2l3-0.3l3-0.3l3-0.2l3-0.3l3-0.3l3-0.3l3.1-0.3l3-0.3l3-0.3l3-0.3l3-0.3l3-0.3l3-0.3l3-0.3l3-0.3l3-0.4l3-0.3l3-0.3l3-0.4l3-0.3l3-0.4l3-0.3l3-0.4l3-0.4l3-0.3l3-0.4l3-0.4l3-0.4l3-0.4l3-0.4l3-0.4l3-0.4l3-0.4l3-0.4l3-0.4l3-0.5l2.9-0.4l3-0.4l3-0.5l3-0.4l3-0.5l2.9-0.5l3-0.4l3-0.5l3-0.5l2.9-0.5l3-0.5l3-0.5l2.9-0.5l3-0.5l3-0.5l2.9-0.5l3-0.6l2.9-0.5l3-0.6l2.9-0.5l3-0.6l2.9-0.5l3-0.6l2.9-0.6l3-0.6l2.9-0.6l2.9-0.6l2.9-0.6l3-0.6l2.9-0.7l2.9-0.6l2.9-0.7l2.9-0.6l3-0.7l2.9-0.7l2.9-0.7l2.9-0.7l2.9-0.7l2.9-0.7l2.8-0.7l2.9-0.8l2.9-0.7l2.9-0.8l2.9-0.8l2.8-0.8l2.9-0.8l2.9-0.8l2.8-0.8l2.9-0.8l2.9-0.9l2.8-0.8l2.8-0.9l2.9-0.9l2.8-0.9l2.9-0.9l2.8-0.9l2.8-1l2.8-0.9l2.8-1l2.9-1l2.8-1l2.8-1l2.8-1l2.7-1.1l2.8-1l2.8-1.1l2.8-1.1l2.8-1.1l2.7-1.1l2.8-1.2l2.8-1.1l2.7-1.2l2.7-1.2l2.8-1.2l2.7-1.2l2.8-1.3l2.7-1.2l2.7-1.3l2.7-1.3l2.7-1.3l2.7-1.3l2.7-1.4l2.7-1.3l2.7-1.4l2.7-1.4l2.6-1.4l2.7-1.4l2.7-1.4l2.6-1.5l2.7-1.4l2.6-1.5l2.6-1.5l2.6-1.5l2.7-1.5l2.6-1.6l2.6-1.5l2.6-1.5l2.5-1.6l2.6-1.6l2.6-1.6l2.5-1.6l2.6-1.6l2.5-1.6l2.6-1.7l2.5-1.6l2.5-1.7l2.5-1.6l2.5-1.7l2.5-1.7l2.5-1.7l2.5-1.7l2.4-1.7l2.5-1.7l2.5-1.8l2.4-1.7l2.5-1.8l2.4-1.7l2.4-1.8l2.4-1.8l2.4-1.7l2.5-1.8l2.3-1.8l2.4-1.8l2.4-1.8l2.4-1.9l2.4-1.8l2.3-1.8l2.4-1.8l2.4-1.9l2.3-1.8l2.3-1.9l2.4-1.8l2.3-1.9l2.3-1.9l2.3-1.9l2.4-1.8l2.3-1.9l2.3-1.9l2.3-1.9l2.3-1.9l2.3-1.9l2.3-1.9l2.2-2l2.3-1.9l2.3-1.9l2.3-1.9l2.3-2l2.2-1.9l2.3-2l2.3-1.9l2.2-2l2.3-1.9l2.3-2l2.2-2l2.3-1.9l2.2-2l2.3-2l2.2-2l2.3-2l2.2-1.9l2.3-2l2.2-2l2.3-2l2.2-2l2.3-2.1l2.3-2l2.2-2l2.3-2l2.2-2l2.3-2l2.2-2.1l2.3-2l2.3-2l2.2-2.1l2.3-2l2.3-2.1l2.2-2l2.3-2l2.3-2.1l2.3-2l2.2-2.1l2.3-2l2.4-1.9l2.3-2l2.3-1.9l2.4-1.8l2.3-1.8l2.4-1.7l2.5-1.7l2.4-1.6l2.5-1.5l2.4-1.4l2.6-1.3l2.5-1.3l2.6-1.3l2.6-1.1l2.7-1.2l2.7-1.1l2.7-1.1l2.8-1l2.8-1l2.9-1.1l2.9-1l2.9-1l2.9-1l3-1l3-1l3-0.9l3-1l3-0.9l2.9-0.9l3-0.9l2.9-0.9l2.8-0.9l2.9-0.8l2.8-0.8l2.9-0.8l2.8-0.8l2.8-0.7l2.8-0.7l2.9-0.6l2.9-0.5l2.9-0.6l2.9-0.4l2.9-0.4l3-0.4l3-0.2l3-0.3l3-0.1l3-0.1l3.1 0l3 0l3.1 0.1l3 0.2l3 0.2l3.1 0.3l3 0.4l3 0.5l2.9 0.5l3 0.6l2.9 0.7l2.9 0.8l2.9 0.8l2.9 0.9l2.8 1l2.8 1.1l2.7 1.1l2.7 1.3l2.7 1.2l2.7 1.4l2.6 1.4l2.6 1.4l2.6 1.6l2.5 1.5l2.6 1.6l2.4 1.7l2.5 1.7l2.4 1.8l2.4 1.8l2.4 1.8l2.4 1.9l2.3 1.9l2.3 2l2.3 1.9l2.3 2l2.2 2.1l2.2 2l2.2 2.1l2.1 2l2.2 2.1l2.1 2.1l2.1 2.2l2.1 2.1l2.1 2.2l2.1 2.1l2 2.2l2.1 2.2l2 2.2l2 2.2l2.1 2.2l2 2.2l2 2.2l2 2.2l2 2.2l2.1 2.2l2 2.2l2 2.2l2.1 2.2l2 2.2l2.1 2.2l2 2.2l2.1 2.2l2.1 2.1l2.1 2.2l2.1 2.1l2.2 2.1l2.1 2.1l2.2 2.1l2.2 2.1l2.2 2l2.3 2.1l2.2 2l2.3 2l2.3 2l2.3 2l2.2 2l2.3 2l2.2 2l2.3 2.1l2.2 2l2.1 2.1l2.2 2.1l2 2.1l2.1 2.2l2 2.2l1.9 2.2l2 2.2l1.9 2.2l1.9 2.3l1.9 2.2l2 2.3l1.9 2.2l1.9 2.3l2 2.2l2 2.2l2 2.2l2.1 2.2l2.2 2.1l2.1 2.1l2.3 2.1l2.2 2l2.3 2l2.3 2l2.4 1.9l2.4 1.9l2.4 1.9l2.5 1.8l2.5 1.7l2.5 1.7l2.6 1.7l2.6 1.6l2.6 1.5l2.6 1.5l2.7 1.5l2.7 1.3l2.7 1.3l2.7 1.3l2.8 1.1l2.8 1.1l2.8 1.1l2.8 0.9l2.8 0.9l2.8 0.8l2.9 0.8l2.9 0.6l2.9 0.6l2.8 0.4l2.9 0.4l3 0.3l2.9 0.2l2.9 0.1l2.9 0.1l3-0.1l2.9-0.2l3-0.2l2.9-0.4l2.9-0.4l3-0.5l3-0.5l2.9-0.6l3-0.7l2.9-0.6l3-0.8l3-0.7l2.9-0.8l3-0.8l3-0.8l2.9-0.8l3-0.9l3-0.8l2.9-0.8l3-0.8l3-0.7l2.9-0.8l3-0.7l3-0.6l2.9-0.6l3-0.6l3-0.6l2.9-0.5l3-0.4l2.9-0.4l3-0.3l2.9-0.3l3-0.2l2.9-0.1l3-0.1l2.9 0l2.9 0l3 0.2l2.9 0.2l2.9 0.3l2.9 0.4l2.9 0.5l2.9 0.6l2.9 0.6l2.9 0.8l2.9 0.8l2.8 0.9l2.9 1l2.8 1l2.8 1.1l2.8 1.2l2.8 1.3l2.7 1.3l2.7 1.4l2.7 1.5l2.6 1.5l2.7 1.5l2.6 1.7l2.5 1.7l2.5 1.7l2.5 1.8l2.5 1.9l2.4 1.9l2.3 1.9l2.4 2l2.3 2l2.3 2l2.3 2l2.3 1.9l2.3 1.8l2.4 1.8l2.4 1.6l2.5 1.5l2.6 1.4l2.7 1.1l2.7 1l2.9 0.8l3 0.5l3.1 0.3l3.1 0.1l3.1-0.3l2.9-0.5l2.7-0.7l2.4-1.1l2-1.3l1.8-1.5l1.7-1.9l1.6-2.1l1.5-2.4l1.5-2.6l1.4-2.7l1.4-2.9l1.3-3l1.2-3.1l1.2-3.1l1.2-3l1.1-3.1l1.1-3l1-3l1-2.9l1-2.9l0.9-2.8l0.9-2.9l0.8-2.8l0.9-2.9l0.8-2.8l0.7-2.9l0.8-2.9l0.7-2.9l0.7-2.9l0.7-2.8l0.6-3l0.7-2.9l0.6-2.9l0.6-2.9l0.6-2.9l0.6-3l0.6-2.9l0.5-2.9l0.6-3l0.6-2.9l0.6-3l0.5-3l0.6-2.9l0.6-3l0.6-2.9l0.5-3l0.6-3l0.6-2.9l0.5-3l0.6-3l0.6-2.9l0.6-3l0.5-3l0.6-2.9l0.6-3l0.5-3l0.6-2.9l0.6-3l0.5-2.9l0.6-3l0.6-2.9l0.5-3l0.6-2.9l0.5-3l0.6-2.9l0.6-3l0.5-2.9l0.6-2.9l0.5-2.9l0.5-2.9l0.6-3l0.5-2.9l0.6-2.9l0.5-2.8l0.5-2.9l0.6-2.9l0.6-2.9l0.5-2.9l0.7-2.9l0.6-3l0.7-2.9l0.7-3l0.8-3l0.9-3l0.9-3.1l1-3.1l1-3.1l1.2-3l1.4-2.8l1.6-2.3l1.8-1.7l2.1-1l2.1-0.1l2.1 0.9l2 1.7l1.8 2.3l1.7 2.8l1.4 3.1l1.1 3.1l0.9 3l0.7 3l0.6 2.9l0.6 3l0.5 2.9l0.6 2.9l0.6 2.9l0.5 3l0.6 2.9l0.6 2.9l0.6 3l0.6 2.9l0.6 2.9l0.6 2.9l0.6 3l0.6 2.9l0.6 2.9l0.5 3l0.6 2.9l0.6 3l0.6 2.9l0.5 2.9l0.6 3l0.5 2.9l0.6 3l0.5 2.9l0.6 3l0.5 3l0.6 2.9l0.5 3l0.5 2.9l0.5 3l0.6 3l0.5 2.9l0.5 3l0.5 2.9l0.5 3l0.5 3l0.5 2.9l0.5 3l0.6 3l0.5 2.9l0.5 3l0.5 3l0.5 2.9l0.5 3l0.5 3l0.5 2.9l0.5 3l0.5 3l0.5 2.9l0.5 3l0.5 3l0.5 2.9l0.5 3l0.5 2.9l0.5 3l0.5 2.9l0.6 3l0.5 2.9l0.5 3l0.5 2.9l0.6 3l0.5 2.9l0.5 3l0.6 2.9l0.5 2.9l0.6 3l0.5 2.9l0.6 2.9l0.6 2.9l0.5 3l0.6 2.9l0.6 2.9l0.6 2.9l0.6 2.9l0.7 3l0.6 2.9l0.7 2.9l0.7 2.9l0.7 2.9l0.7 2.9l0.7 3l0.8 2.9l0.7 2.9l0.8 2.9l0.8 3l0.9 2.9l0.9 2.9l0.8 2.9l1 3l0.9 2.9l1 2.9l1.1 2.9l1.1 2.8l1.2 2.8l1.3 2.7l1.3 2.7l1.5 2.5l1.6 2.4l1.7 2.4l1.9 2.2l2 2l2.1 1.9l2.4 1.8l2.5 1.5l2.6 1.4l2.9 1.2l3.1 0.9" stroke="#00ffff" stroke-width="7" fill="none" stroke-linejoin="miter" stroke-miterlimit="3" stroke-linecap="butt"/>
<path d="M270 3403l2.9 0l3-0.1l2.9 0l3-0.1l2.9 0l3 0l3-0.1l2.9 0l3 0l3 0l2.9-0.1l3 0l3 0l3 0l2.9 0l3 0l3-0.1l3 0l3 0l3 0l2.9 0l3 0l3 0l3 0l3 0l3 0l3 0l3 0l3 0l3.1 0l3 0l3-0.1l3 0l3 0l3 0l3 0l3 0l3.1 0l3 0l3 0l3 0l3 0l3.1 0l3 0l3 0l3 0l3.1 0l3 0l3 0l3 0l3.1 0l3 0l3 0l3.1 0l3 0l3 0l3.1 0l3 0l3 0l3.1 0l3-0.1l3 0l3 0l3.1 0l3 0l3 0l3.1-0.1l3 0l3 0l3.1-0.1l3 0l3 0l3.1-0.1l3 0l3 0l3.1-0.1l3 0l3-0.1l3 0l3.1-0.1l3-0.1l3 0l3-0.1l3.1-0.1l3 0l3-0.1l3-0.1l3-0.1l3.1-0.1l3-0.1l3-0.1l3-0.1l3-0.1l3-0.1l3.1-0.1l3-0.1l3-0.2l3-0.1l3-0.1l3-0.2l3-0.1l3-0.2l3-0.1l3-0.2l3-0.2l3-0.1l3-0.2l2.9-0.2l3-0.2l3-0.2l3-0.2l3-0.2l3-0.2l2.9-0.3l3-0.2l3-0.2l3-0.3l2.9-0.2l3-0.3l2.9-0.3l3-0.3l3-0.3l2.9-0.3l3-0.3l2.9-0.3l3-0.4l2.9-0.3l3-0.4l2.9-0.3l2.9-0.4l3-0.4l2.9-0.5l2.9-0.4l3-0.4l2.9-0.5l2.9-0.5l2.9-0.5l2.9-0.5l2.9-0.5l3-0.5l2.9-0.6l2.9-0.5l2.9-0.6l2.9-0.7l2.9-0.6l2.9-0.6l2.8-0.7l2.9-0.7l2.9-0.7l2.9-0.7l2.9-0.8l2.8-0.7l2.9-0.8l2.9-0.8l2.8-0.9l2.9-0.8l2.9-0.9l2.8-0.9l2.9-0.9l2.8-1l2.9-0.9l2.8-1l2.8-1.1l2.9-1l2.8-1l2.8-1.1l2.9-1.1l2.8-1.1l2.8-1.1l2.8-1.2l2.8-1.2l2.8-1.1l2.8-1.2l2.8-1.2l2.8-1.3l2.8-1.2l2.8-1.3l2.8-1.2l2.7-1.3l2.8-1.3l2.8-1.3l2.8-1.3l2.7-1.3l2.8-1.4l2.7-1.3l2.8-1.3l2.7-1.4l2.8-1.4l2.7-1.3l2.7-1.4l2.8-1.4l2.7-1.4l2.7-1.4l2.7-1.4l2.8-1.4l2.7-1.4l2.7-1.4l2.7-1.4l2.7-1.4l2.7-1.5l2.6-1.4l2.7-1.4l2.7-1.4l2.7-1.4l2.6-1.4l2.7-1.4l2.7-1.4l2.6-1.5l2.7-1.4l2.6-1.4l2.7-1.4l2.6-1.4l2.6-1.4l2.7-1.4l2.6-1.4l2.6-1.4l2.6-1.4l2.6-1.4l2.7-1.5l2.6-1.4l2.6-1.4l2.6-1.4l2.6-1.4l2.5-1.5l2.6-1.4l2.6-1.4l2.6-1.5l2.6-1.4l2.5-1.5l2.6-1.4l2.6-1.5l2.5-1.5l2.6-1.4l2.5-1.5l2.6-1.5l2.5-1.5l2.6-1.5l2.5-1.5l2.5-1.5l2.6-1.6l2.5-1.5l2.5-1.5l2.5-1.6l2.6-1.6l2.5-1.5l2.5-1.6l2.5-1.6l2.5-1.6l2.5-1.6l2.5-1.7l2.5-1.6l2.5-1.7l2.5-1.6l2.5-1.7l2.5-1.7l2.4-1.7l2.5-1.7l2.5-1.7l2.5-1.8l2.5-1.7l2.4-1.8l2.5-1.7l2.5-1.8l2.4-1.8l2.5-1.8l2.5-1.7l2.4-1.8l2.5-1.8l2.5-1.8l2.4-1.8l2.5-1.8l2.5-1.8l2.4-1.8l2.5-1.8l2.5-1.8l2.5-1.8l2.4-1.8l2.5-1.8l2.5-1.7l2.5-1.8l2.5-1.7l2.5-1.8l2.5-1.7l2.5-1.7l2.5-1.7l2.5-1.7l2.5-1.7l2.5-1.7l2.6-1.6l2.5-1.7l2.5-1.6l2.6-1.6l2.5-1.5l2.6-1.6l2.5-1.5l2.6-1.5l2.6-1.5l2.6-1.5l2.6-1.4l2.6-1.4l2.6-1.4l2.6-1.4l2.6-1.3l2.7-1.3l2.6-1.2l2.7-1.3l2.6-1.2l2.7-1.2l2.7-1.2l2.6-1.2l2.7-1.2l2.7-1.1l2.7-1.2l2.8-1.2l2.7-1.1l2.7-1.2l2.8-1.1l2.7-1.2l2.8-1.1l2.7-1.2l2.8-1.2l2.8-1.2l2.8-1.2l2.7-1.3l2.8-1.2l2.9-1.2l2.8-1.2l2.8-1.3l2.8-1.2l2.8-1.2l2.9-1.1l2.8-1.2l2.9-1.1l2.8-1.1l2.9-1.1l2.8-1l2.9-1l2.9-0.9l2.9-0.9l2.9-0.9l2.8-0.8l2.9-0.7l2.9-0.7l3-0.6l2.9-0.5l2.9-0.5l2.9-0.5l2.9-0.3l3-0.3l2.9-0.3l2.9-0.2l3-0.1l2.9-0.1l3-0.1l2.9 0l3 0l3 0l2.9 0l3 0.1l3 0l3 0l2.9 0l3 0l3 0.1l3 0l3-0.1l3 0l3 0l3 0l3-0.1l3 0l3 0l3 0.1l3 0l3 0.1l3.1 0.2l3 0.2l3 0.2l3 0.3l3 0.3l3 0.4l3 0.4l2.9 0.4l3 0.6l3 0.5l2.9 0.7l2.9 0.7l3 0.7l2.9 0.9l2.9 0.9l2.8 0.9l2.9 1l2.9 1l2.8 1.1l2.8 1.1l2.9 1l2.8 1.1l2.8 1.1l2.8 1l2.8 1l2.8 0.9l2.8 0.9l2.9 0.9l2.8 0.9l2.8 0.9l2.8 0.8l2.9 0.9l2.8 0.8l2.9 0.9l2.9 0.9l2.8 0.9l2.9 0.9l2.9 0.9l2.9 1l2.8 0.9l2.9 1l2.9 1l2.8 1l2.9 1l2.8 1l2.8 1.1l2.8 1.1l2.8 1.1l2.8 1.1l2.8 1.1l2.7 1.2l2.8 1.2l2.7 1.2l2.7 1.2l2.6 1.3l2.7 1.3l2.6 1.3l2.7 1.4l2.6 1.4l2.6 1.4l2.5 1.4l2.6 1.5l2.6 1.5l2.5 1.5l2.5 1.6l2.5 1.6l2.5 1.6l2.5 1.7l2.5 1.7l2.5 1.7l2.4 1.8l2.5 1.8l2.4 1.9l2.4 1.8l2.5 1.9l2.4 1.8l2.4 1.9l2.5 1.9l2.4 1.8l2.5 1.9l2.4 1.9l2.5 1.8l2.4 1.8l2.5 1.8l2.5 1.7l2.5 1.7l2.5 1.7l2.5 1.6l2.6 1.6l2.5 1.5l2.6 1.5l2.6 1.4l2.6 1.3l2.6 1.4l2.7 1.3l2.6 1.2l2.7 1.3l2.7 1.2l2.7 1.2l2.7 1.1l2.7 1.2l2.7 1.1l2.8 1.1l2.7 1.2l2.8 1.1l2.7 1.1l2.8 1.2l2.7 1.1l2.8 1.2l2.8 1.2l2.7 1.2l2.8 1.2l2.8 1.2l2.8 1.2l2.8 1.2l2.8 1.2l2.8 1.3l2.8 1.2l2.8 1.2l2.8 1.2l2.8 1.2l2.8 1.2l2.8 1.2l2.8 1.2l2.8 1.2l2.8 1.1l2.9 1.1l2.8 1.2l2.8 1.1l2.8 1.1l2.9 1.1l2.8 1l2.8 1.1l2.9 1l2.8 1l2.8 1l2.9 1l2.8 1l2.9 0.9l2.8 1l2.8 0.9l2.9 0.8l2.8 0.9l2.9 0.9l2.8 0.8l2.8 0.8l2.9 0.8l2.8 0.8l2.9 0.8l2.8 0.8l2.9 0.7l2.8 0.8l2.9 0.7l2.8 0.8l2.8 0.8l2.9 0.8l2.8 0.8l2.9 0.8l2.8 0.8l2.9 0.8l2.8 0.9l2.9 0.9l2.8 0.9l2.9 0.9l2.8 0.9l2.9 1l2.8 0.9l2.9 1l2.8 1l2.9 1l2.8 1l2.9 1.1l2.8 1l2.9 1.1l2.8 1l2.9 1.1l2.8 1.1l2.9 1l2.9 1.1l2.8 1.1l2.9 1.1l2.8 1l2.9 1.1l2.8 1.1l2.9 1l2.8 1.1l2.9 1l2.9 1.1l2.8 1l2.9 1l2.8 1l2.9 1l2.8 0.9l2.9 1l2.8 0.9l2.9 0.9l2.9 0.9l2.8 0.9l2.9 0.8l2.8 0.9l2.9 0.8l2.9 0.8l2.8 0.8l2.9 0.8l2.8 0.7l2.9 0.8l2.9 0.8l2.8 0.8l2.9 0.8l2.8 0.8l2.9 0.8l2.9 0.8l2.8 0.8l2.9 0.8l2.8 0.9l2.9 0.8l2.9 0.9l2.8 0.9l2.9 0.9l2.8 1l2.9 0.9l2.8 1l2.8 1l2.8 1l2.9 1.1l2.8 1.1l2.8 1.1l2.8 1.1l2.7 1.2l2.8 1.2l2.8 1.3l2.7 1.2l2.7 1.3l2.8 1.4l2.7 1.3l2.7 1.4l2.7 1.3l2.7 1.4l2.7 1.4l2.7 1.3l2.7 1.4l2.7 1.3l2.7 1.3l2.7 1.4l2.8 1.2l2.7 1.3l2.7 1.2l2.8 1.1l2.8 1.2l2.7 1l2.8 1.1l2.8 0.9l2.9 0.9l2.8 0.9l2.9 0.8l2.8 0.8l2.9 0.7l2.9 0.6l2.9 0.7l2.9 0.6l3 0.5l2.9 0.5l3 0.5l2.9 0.4l3 0.4l3 0.4l3 0.4l3 0.3l3 0.3l3 0.3l3 0.2l3 0.3l3 0.2l3 0.2l3 0.2l3.1 0.2l3 0.2l3 0.1l3.1 0.2l3 0.2l3 0.1l3 0.2l3.1 0.2l3 0.1l3 0.2l3 0.2l3 0.2l3 0.2l3.1 0.3l2.9 0.2l3 0.3l3 0.2l3 0.3l3 0.4l2.9 0.3l3 0.4l2.9 0.4" stroke="#ff0000" stroke-width="7" fill="none" stroke-linejoin="miter" stroke-miterlimit="3" stroke-linecap="butt"/>
<path d="M270 3403l2.8-0.1l2.7-0.1l2.8-0.1l2.8 0l2.9-0.1l2.8-0.1l2.9 0l2.8-0.1l2.9 0l2.9-0.1l2.9 0l2.9 0l3-0.1l2.9 0l3-0.1l3 0l3 0l3-0.1l3 0l3-0.1l3 0l3-0.1l3.1 0l3-0.1l3.1 0l3-0.1l3.1-0.1l3.1-0.1l3.1 0l3.1-0.1l3-0.1l3.1-0.2l3.1-0.1l3.1-0.1l3.1-0.1l3.1-0.2l3.1-0.1l3.1-0.2l3.2-0.2l3.1-0.2l3.1-0.2l3.1-0.2l3.1-0.2l3.1-0.3l3.1-0.2l3.1-0.3l3.1-0.3l3.1-0.3l3-0.3l3.1-0.4l3.1-0.3l3.1-0.4l3-0.4l3.1-0.4l3-0.5l3.1-0.4l3-0.5l3.1-0.5l3-0.5l3-0.6l3-0.5l3-0.6l2.9-0.6l3-0.7l3-0.6l2.9-0.7l2.9-0.7l3-0.8l2.9-0.7l2.9-0.8l2.8-0.8l2.9-0.9l2.8-0.9l2.9-0.9l2.8-0.9l2.8-1l2.7-1l2.8-1l2.7-1.1l2.8-1.1l2.7-1.1l2.7-1.1l2.6-1.2l2.7-1.3l2.6-1.2l2.6-1.3l2.6-1.3l2.5-1.4l2.6-1.4l2.5-1.5l2.5-1.5l2.4-1.5l2.5-1.5l2.4-1.6l2.3-1.7l2.4-1.6l2.3-1.8l2.3-1.7l2.3-1.8l2.3-1.9l2.2-1.9l2.2-1.9l2.1-2l2.2-2l2.1-2.1l2.1-2.1l2-2.1l2-2.2l2-2.2l2-2.2l1.9-2.3l2-2.3l1.9-2.4l1.9-2.4l1.8-2.4l1.9-2.4l1.8-2.4l1.8-2.5l1.8-2.5l1.8-2.5l1.7-2.5l1.8-2.6l1.7-2.6l1.7-2.5l1.7-2.6l1.7-2.6l1.7-2.6l1.7-2.6l1.6-2.6l1.7-2.6l1.7-2.7l1.6-2.6l1.7-2.6l1.6-2.6l1.6-2.6l1.7-2.6l1.6-2.6l1.7-2.6l1.6-2.6l1.6-2.5l1.7-2.6l1.6-2.5l1.7-2.6l1.6-2.5l1.7-2.4l1.6-2.5l1.7-2.4l1.7-2.4l1.7-2.5l1.6-2.3l1.7-2.4l1.7-2.4l1.7-2.4l1.7-2.3l1.7-2.4l1.7-2.3l1.6-2.4l1.7-2.4l1.7-2.3l1.7-2.4l1.6-2.4l1.7-2.4l1.6-2.5l1.7-2.4l1.6-2.5l1.6-2.5l1.6-2.5l1.6-2.5l1.5-2.6l1.6-2.6l1.6-2.6l1.5-2.6l1.6-2.6l1.5-2.7l1.6-2.6l1.6-2.7l1.5-2.6l1.6-2.7l1.6-2.6l1.6-2.6l1.6-2.7l1.7-2.6l1.6-2.5l1.7-2.6l1.7-2.5l1.7-2.6l1.7-2.4l1.8-2.5l1.8-2.4l1.9-2.4l1.8-2.3l1.9-2.3l2-2.3l2-2.2l2-2.1l2-2.2l2.1-2.1l2.1-2.1l2.1-2.1l2.1-2l2.1-2.1l2.2-2l2.1-2.1l2.1-2l2.2-2.1l2.1-2l2.1-2.1l2.2-2.1l2.1-2.2l2-2.1l2.1-2.2l2-2.2l2.1-2.3l1.9-2.3l2-2.4l1.9-2.4l1.9-2.4l1.9-2.5l1.8-2.4l1.9-2.5l1.8-2.5l1.9-2.5l1.9-2.4l1.9-2.4l1.9-2.4l1.9-2.4l1.9-2.3l2-2.2l2.1-2.2l2.1-2l2.1-2l2.2-1.9l2.3-1.8l2.3-1.7l2.4-1.5l2.5-1.5l2.6-1.3l2.7-1.1l2.7-1l2.9-0.9l2.8-0.7l3-0.7l2.9-0.7l3-0.5l3-0.6l3-0.6l3-0.5l2.9-0.6l2.9-0.7l2.9-0.7l2.8-0.8l2.8-0.9l2.8-1l2.7-1.2l2.7-1.3l2.6-1.4l2.6-1.5l2.6-1.6l2.6-1.7l2.5-1.7l2.6-1.7l2.6-1.6l2.6-1.6l2.7-1.6l2.6-1.4l2.8-1.4l2.7-1.2l2.8-1l2.7-0.9l2.8-0.6l2.9-0.4l2.8-0.1l2.8 0.1l2.8 0.4l2.8 0.7l2.7 0.8l2.7 1.1l2.7 1.3l2.6 1.4l2.6 1.6l2.4 1.8l2.4 1.9l2.3 2l2.3 2.1l2.2 2.3l2.1 2.2l2.1 2.4l2 2.4l2 2.4l2 2.4l2 2.4l1.9 2.4l1.9 2.4l1.9 2.4l1.9 2.3l1.9 2.3l1.9 2.3l1.9 2.2l1.9 2.2l1.9 2.3l1.9 2.2l2 2.1l2 2.2l2 2.2l2 2.1l2.1 2.1l2.1 2.2l2.1 2.1l2.1 2.1l2.2 2.1l2.1 2.1l2.2 2.2l2.1 2.1l2.2 2.1l2.2 2.1l2.1 2.1l2.2 2.2l2.1 2.1l2.2 2.1l2.1 2.2l2.1 2.1l2.1 2.2l2.2 2.1l2.1 2.2l2.1 2.1l2.1 2.2l2.1 2.1l2.1 2.2l2.1 2.1l2.1 2.2l2.1 2.2l2 2.1l2.1 2.2l2.1 2.1l2.1 2.2l2 2.1l2.1 2.1l2.1 2.2l2.1 2.1l2 2.2l2.1 2.1l2.1 2.1l2.1 2.1l2 2.1l2.1 2.2l2.1 2.1l2.2 2l2.1 2.1l2.1 2.1l2.1 2.1l2.2 2.1l2.2 2l2.2 2.1l2.2 2l2.2 2l2.2 2.1l2.3 2l2.2 2l2.3 2l2.3 2l2.3 2l2.3 2l2.3 2l2.3 1.9l2.3 2l2.3 2l2.3 2l2.3 2l2.3 2l2.3 2l2.3 2l2.2 2.1l2.2 2l2.3 2l2.1 2.1l2.2 2l2.1 2.1l2.2 2.1l2.1 2.1l2.1 2.1l2.1 2.1l2 2.1l2.1 2.2l2.1 2.1l2 2.1l2.1 2.1l2 2.2l2.1 2.1l2 2.1l2.1 2.2l2.1 2.1l2.1 2.1l2.1 2.1l2.1 2.1l2.1 2.1l2.1 2.1l2.2 2l2.2 2.1l2.2 2.1l2.2 2l2.3 2l2.3 2l2.3 2l2.4 2l2.3 1.9l2.5 2l2.4 1.9l2.5 1.8l2.5 1.9l2.5 1.8l2.5 1.7l2.6 1.7l2.6 1.7l2.6 1.6l2.6 1.6l2.6 1.5l2.7 1.4l2.6 1.4l2.7 1.4l2.7 1.3l2.7 1.2l2.7 1.2l2.7 1.2l2.7 1l2.8 1.1l2.7 1l2.7 0.9l2.8 0.9l2.7 0.8l2.7 0.9l2.8 0.8l2.7 0.9l2.8 0.9l2.7 0.9l2.8 0.9l2.7 1l2.8 1.1l2.8 1.1l2.7 1.2l2.8 1.2l2.8 1.3l2.8 1.3l2.7 1.3l2.8 1.3l2.8 1.3l2.8 1.3l2.8 1.3l2.8 1.3l2.8 1.2l2.8 1.2l2.8 1.2l2.8 1.2l2.8 1.1l2.9 1.1l2.8 1.1l2.8 1.1l2.8 1.1l2.9 1l2.8 1l2.8 1l2.9 1l2.8 1l2.9 0.9l2.8 1l2.9 0.9l2.8 0.9l2.9 0.9l2.9 0.8l2.8 0.9l2.9 0.9l2.9 0.8l2.9 0.8l2.8 0.8l2.9 0.8l2.9 0.8l2.9 0.8l2.9 0.7l2.9 0.8l2.8 0.8l2.9 0.7l2.9 0.7l2.9 0.8l2.9 0.7l2.9 0.7l3 0.7l2.9 0.7l2.9 0.7l2.9 0.7l2.9 0.7l2.9 0.7l2.9 0.7l3 0.7l2.9 0.7l2.9 0.6l2.9 0.7l3 0.7l2.9 0.7l2.9 0.6l3 0.7l2.9 0.6l3 0.7l2.9 0.6l2.9 0.6l3 0.7l2.9 0.6l3 0.6l2.9 0.6l3 0.6l2.9 0.6l3 0.6l2.9 0.6l3 0.5l2.9 0.6l3 0.6l3 0.5l2.9 0.6l3 0.5l3 0.6l2.9 0.5l3 0.5l2.9 0.5l3 0.5l3 0.5l3 0.5l2.9 0.5l3 0.4l3 0.5l2.9 0.4l3 0.5l3 0.4l3 0.4l2.9 0.4l3 0.5l3 0.3l3 0.4l2.9 0.4l3 0.4l3 0.3l3 0.4l3 0.3l2.9 0.3l3 0.3l3 0.3l3 0.3l3 0.3l3 0.3l2.9 0.3l3 0.2l3 0.3l3 0.2l3 0.3l3 0.2l3 0.2l2.9 0.2l3 0.2l3 0.2l3 0.2l3 0.2l3 0.2l3 0.1l3 0.2l2.9 0.2l3 0.1l3 0.2l3 0.1l3 0.1l3 0.2l3 0.1l3 0.1l3 0.1l3 0.1l3 0.1l3 0.1l3 0.1l2.9 0.1l3 0l3 0.1l3 0.1l3 0l3 0.1l3 0.1l3 0l3 0.1l3 0l3 0l3 0.1l3 0l3 0l3 0.1l3 0l3 0l3 0l3 0.1l3 0l3 0l3 0l3 0l3 0l3 0l3 0l3 0l3 0l3 0l3 0l3 0l3 0l3 0l3 0l3 0l3 0l3 0l3 0l3.1 0l3 0l3 0l3 0l3 0l3 0l3 0l3 0l3 0l3 0l3 0l3 0l3 0.1l3 0l3 0l3 0l3 0l3 0l3.1 0.1l3 0l3 0l3 0.1l3 0l3 0l3 0.1l3 0l3 0.1l3 0l3 0.1l3 0.1l3 0l3 0.1l3 0.1l3.1 0.1l3 0l3 0.1l3 0.1l3 0.1l3 0.1l3 0.2l3 0.1l3 0.1l3 0.1l3 0.1l3 0.1l3 0.2l3 0.1l3.1 0.1l3 0.2l3 0.1l3 0.1l3 0.2l3 0.1l3 0.2l3 0.1l3 0.2l3 0.1l3 0.1l3 0.2l3 0.1l3 0.2l3 0.1l3 0.2l3 0.1l3.1 0.1l3 0.2l3 0.1l3 0.2l3 0.1l3 0.1l3 0.1l3 0.2l3 0.1l3 0.1l3 0.1l3 0.1l3 0.2l3 0.1l3 0.1l3 0.1l3 0.1l3 0l3 0.1l3 0.1l3 0.1l3 0.1l3 0.1l3 0l3 0.1l3 0.1l3 0.1l3 0.1l3 0l3 0.1l3 0.1l3 0.1l3 0l3 0.1l3 0.1l3 0.1l3 0.1l3 0l3 0.1l3 0.1l3 0.1l3 0.1l3 0.1l3 0.1l3 0.1l3 0.2l3 0.1l3 0.1l3 0.1l3 0.2l2.9 0.1l3 0.2l3 0.1l3 0.2l3 0.1l3 0.2l3 0.2l3 0.2l3 0.2l3 0.2l2.9 0.2l3 0.2l3 0.2l3 0.3l3 0.2l3 0.3l3 0.2l3 0.3l2.9 0.3l3 0.3l3 0.3l3 0.3" stroke="#ff00ff" stroke-width="7" fill="none" stroke-linejoin="miter" stroke-miterlimit="3" stroke-linecap="butt"/>
<path d="M403 3403l3 0l3 0l3 0l3 0l3 0l3 0l2.9-0.1l3 0l3 0l3 0l3 0l3 0l3 0l3 0l3 0l3 0l3 0l3 0l3 0l3 0l3 0l3 0l3 0l2.9 0l3 0l3 0l3 0l3 0l3 0l3 0l3 0l3 0l3 0l3 0l3 0l3 0l3 0l3 0l3 0l3 0l3 0l3 0.1l3 0l3 0l3 0l3 0l3 0l3 0l3 0l3 0l3 0l3 0l3 0l3 0l3 0l3 0l3 0l3 0l3 0l3 0l3 0.1l3 0l3 0l3 0l3 0l3 0l3 0l3 0l3 0l3 0l3 0l3 0l3 0l3 0l3 0l3 0l3 0l3 0l3 0l3 0l3 0l3 0.1l3 0l3 0l3 0l3 0l3 0l3 0l3 0l3 0l3 0l3 0l3.1 0l3 0l3 0l3 0l3 0l3 0l3 0l3 0l3 0l3 0l3 0l3 0l3 0l3 0l3 0l3 0l3 0l3 0l3-0.1l3 0l3 0l3 0l3 0l3 0l3 0l3 0l3.1 0l3 0l3 0l3 0l3 0l3-0.1l3 0l3 0l3 0l3 0l3 0l3 0l3 0l3-0.1l3 0l3 0l3 0l3 0l3 0l3-0.1l3 0l3 0l3 0l3.1 0l3-0.1l3 0l3 0l3 0l3-0.1l3 0l3 0l3 0l3-0.1l3 0l3 0l3-0.1l3 0l3 0l3-0.1l3 0l3 0l3-0.1l3 0l3 0l3-0.1l3 0l3.1 0l3-0.1l3 0l3-0.1l3 0l3-0.1l3 0l3 0l3-0.1l3 0l3-0.1l3 0l3-0.1l3 0l3-0.1l3 0l3-0.1l3 0l3-0.1l3-0.1l3 0l3-0.1l3 0l3-0.1l3 0l3-0.1l3-0.1l3 0l3-0.1l3-0.1l3 0l3-0.1l3-0.1l3 0l3-0.1l3-0.1l3.1-0.1l3 0l3-0.1l3-0.1l3-0.1l3-0.1l3 0l3-0.1l3-0.1l3-0.1l3-0.1l3-0.1l3-0.1l3 0l3-0.1l3-0.1l3-0.1l3-0.1l3-0.1l3-0.1l3-0.1l3-0.1l3-0.1l3-0.1l3-0.1l3-0.1l2.9-0.1l3-0.1l3-0.2l3-0.1l3-0.1l3-0.1l3-0.1l3-0.1l3-0.1l3-0.2l3-0.1l3-0.1l3-0.1l3-0.1l3-0.2l3-0.1l3-0.1l3-0.2l3-0.1l3-0.1l3-0.2l3-0.1l3-0.1l3-0.2l3-0.1l3-0.2l3-0.1l3-0.2l2.9-0.1l3-0.2l3-0.1l3-0.2l3-0.1l3-0.2l3-0.1l3-0.2l3-0.1l3-0.2l3-0.2l3-0.1l3-0.2l3-0.2l2.9-0.1l3-0.2l3-0.2l3-0.2l3-0.1l3-0.2l3-0.2l3-0.2l3-0.2l3-0.2l3-0.1l2.9-0.2l3-0.2l3-0.2l3-0.2l3-0.2l3-0.2l3-0.2l3-0.2l2.9-0.2l3-0.2l3-0.2l3-0.2l3-0.2l3-0.3l3-0.2l3-0.2l2.9-0.2l3-0.2l3-0.3l3-0.2l3-0.2l3-0.2l2.9-0.3l3-0.2l3-0.2l3-0.2l3-0.3l3-0.2l2.9-0.3l3-0.2l3-0.2l3-0.3l3-0.2l2.9-0.3l3-0.2l3-0.3l3-0.2l3-0.2l2.9-0.3l3-0.3l3-0.2l3-0.3l2.9-0.2l3-0.3l3-0.2l3-0.3l2.9-0.3l3-0.2l3-0.3l3-0.2l2.9-0.3l3-0.3l3-0.2l2.9-0.3l3-0.3l3-0.3l3-0.2l2.9-0.3l3-0.3l3-0.3l2.9-0.2l3-0.3l3-0.3l2.9-0.3l3-0.2l2.9-0.3l3-0.3l3-0.3l2.9-0.3l3-0.3l3-0.3l2.9-0.3l3-0.3l2.9-0.3l3-0.4l2.9-0.3l3-0.4l3-0.3l2.9-0.4l3-0.4l2.9-0.4l3-0.4l2.9-0.5l3-0.4l2.9-0.5l3-0.5l2.9-0.5l3-0.5l2.9-0.6l3-0.5l2.9-0.6l3-0.7l2.9-0.6l2.9-0.7l3-0.7l2.9-0.7l3-0.7l2.9-0.8l3-0.8l2.9-0.8l2.9-0.8l3-0.8l2.9-0.9l2.9-0.8l3-0.9l2.9-0.8l2.9-0.9l3-0.9l2.9-0.9l2.9-0.9l3-0.9l2.9-0.9l2.9-0.9l2.9-0.9l3-0.8l2.9-0.9l2.9-0.9l2.9-0.9l3-0.8l2.9-0.9l2.9-0.8l2.9-0.9l2.9-0.8l2.9-0.8l2.9-0.8l2.9-0.8l3-0.8l2.8-0.8l2.9-0.7l2.9-0.8l2.9-0.7l2.9-0.7l2.9-0.7l2.9-0.8l2.8-0.7l2.9-0.7l2.8-0.7l2.9-0.7l2.8-0.8l2.9-0.8l2.8-0.8l2.8-0.8l2.8-0.9l2.8-0.9l2.8-1l2.8-1l2.8-1l2.8-1l2.7-1.1l2.8-1.2l2.7-1.1l2.8-1.2l2.7-1.2l2.7-1.3l2.7-1.3l2.7-1.3l2.7-1.3l2.6-1.4l2.7-1.4l2.6-1.4l2.7-1.4l2.6-1.5l2.6-1.5l2.6-1.5l2.6-1.5l2.5-1.6l2.6-1.6l2.5-1.6l2.5-1.6l2.6-1.6l2.5-1.6l2.5-1.7l2.4-1.7l2.5-1.7l2.5-1.7l2.4-1.7l2.5-1.8l2.4-1.7l2.4-1.8l2.4-1.8l2.5-1.7l2.4-1.8l2.4-1.9l2.4-1.8l2.3-1.8l2.4-1.8l2.4-1.9l2.4-1.8l2.4-1.9l2.3-1.9l2.4-1.8l2.3-1.9l2.4-1.9l2.4-1.9l2.3-1.9l2.4-1.9l2.3-1.9l2.3-1.9l2.3-1.9l2.3-2l2.3-1.9l2.3-2l2.3-1.9l2.2-2l2.2-2.1l2.2-2l2.2-2l2.2-2.1l2.1-2.1l2.1-2.1l2-2.2l2.1-2.2l2-2.2l1.9-2.2l1.9-2.3l1.9-2.3l1.8-2.3l1.8-2.4l1.8-2.4l1.7-2.5l1.7-2.5l1.6-2.5l1.5-2.5l1.6-2.6l1.5-2.6l1.5-2.6l1.5-2.7l1.4-2.6l1.5-2.7l1.4-2.6l1.4-2.7l1.5-2.7l1.5-2.6l1.4-2.6l1.5-2.6l1.5-2.6l1.6-2.6l1.6-2.5l1.6-2.5l1.6-2.5l1.7-2.4l1.8-2.4l1.8-2.3l1.9-2.3l2-2.2l2-2.1l2.1-2.1l2.2-2l2.3-2.1l2.5-2.2l2.7-2.6l2.6-2.6l1.9-1.8l0.6-0.2l-1.1 1.8l-1.7 2.4l-1 1.5l0.6-0.5l1.9-2l2.5-2.7l2.7-2.5l2.6-2.1l2.5-1.9l2.4-1.9l2.3-1.9l2.1-2.1l2.1-2.1l2.1-2.1l2-2.1l2-2.2l2.1-2.2l1.9-2.2l2-2.2l2-2.2l1.9-2.2l2-2.3l1.9-2.3l1.9-2.3l1.9-2.3l1.8-2.3l1.9-2.3l1.8-2.4l1.8-2.4l1.9-2.3l1.8-2.4l1.8-2.4l1.7-2.5l1.8-2.4l1.7-2.5l1.8-2.4l1.7-2.5l1.7-2.5l1.7-2.5l1.7-2.5l1.7-2.5l1.6-2.5l1.7-2.6l1.6-2.5l1.7-2.6l1.6-2.6l1.6-2.6l1.6-2.6l1.6-2.6l1.6-2.6l1.5-2.6l1.6-2.6l1.5-2.7l1.5-2.6l1.6-2.7l1.4-2.6l1.5-2.7l1.5-2.7l1.4-2.6l1.4-2.7l1.4-2.7l1.4-2.7l1.4-2.7l1.3-2.7l1.4-2.7l1.3-2.8l1.3-2.7l1.2-2.7l1.3-2.7l1.2-2.8l1.2-2.7l1.2-2.7l1.2-2.8l1.1-2.7l1.2-2.8l1.1-2.7l1.1-2.8l1.1-2.8l1-2.7l1.1-2.8l1-2.8l1-2.7l1-2.8l1-2.8l1-2.8l0.9-2.8l1-2.8l0.9-2.8l1-2.8l0.9-2.8l0.9-2.8l0.9-2.8l0.8-2.8l0.9-2.8l0.9-2.8l0.8-2.8l0.9-2.8l0.8-2.9l0.8-2.8l0.8-2.8l0.9-2.9l0.8-2.8l0.8-2.8l0.8-2.9l0.8-2.8l0.7-2.9l0.8-2.8l0.8-2.9l0.8-2.8l0.8-2.9l0.7-2.9l0.8-2.8l0.8-2.9l0.7-2.9l0.8-2.8l0.8-2.9l0.8-2.9l0.7-2.9l0.8-2.8l0.8-2.9l0.7-2.9l0.8-2.9l0.8-2.9l0.8-2.9l0.8-2.9l0.8-2.9l0.8-2.9l0.8-2.9l0.8-2.9l0.8-2.9l0.8-2.9l0.8-2.9l0.8-2.9l0.8-2.9l0.8-2.9l0.9-2.9l0.8-3l0.8-2.9l0.8-2.9l0.8-2.9l0.8-3l0.8-2.9l0.8-2.9l0.8-2.9l0.8-3l0.8-2.9l0.8-2.9l0.7-3l0.8-2.9l0.8-3l0.7-2.9l0.8-2.9l0.7-3l0.7-2.9l0.8-3l0.7-2.9l0.7-3l0.7-2.9l0.6-3l0.7-2.9l0.7-3l0.6-2.9l0.6-3l0.6-3l0.6-2.9l0.6-3l0.6-2.9l0.5-3l0.6-3l0.5-2.9l0.5-3l0.5-2.9l0.5-3l0.4-3l0.4-2.9l0.5-3l0.4-3l0.3-3l0.4-2.9l0.4-3l0.3-3l0.3-2.9l0.3-3l0.3-3l0.3-3l0.2-2.9l0.3-3l0.2-3l0.3-3l0.2-2.9l0.2-3l0.2-3l0.1-3l0.2-3l0.2-2.9l0.1-3l0.2-3l0.1-3l0.1-3l0.2-3l0.1-2.9l0.1-3l0.1-3l0.1-3l0.1-3l0.1-3l0-3l0.1-3l0.1-2.9l0.1-3l0-3l0.1-3l0-3l0.1-3l0.1-3l0-3l0.1-3l0-3l0.1-3l0.1-3l0-3l0.1-3l0.1-3l0-2.9l0.1-3l0.1-3l0.1-3l0-3l0.1-3l0.1-3l0.1-3l0.1-3l0.1-3l0.1-3l0.2-3l0.1-3l0.1-3l0.1-3l0.2-3l0.1-3l0.1-3l0.2-3l0.1-3l0.2-3l0.1-3.1l0.2-3l0.1-3l0.2-3l0.2-3l0.1-3l0.2-3l0.2-3l0.1-3l0.2-3l0.2-3l0.1-3l0.2-3l0.2-3l0.2-3l0.1-3l0.2-3l0.2-3l0.1-3l0.2-3l0.2-3l0.2-3.1l0.1-3l0.2-3l0.2-3l0.1-3l0.2-3l0.2-3l0.1-3l0.2-3l0.1-3l0.2-3l0.1-3l0.2-3l0.1-3l0.2-3l0.1-3.1l0.2-3l0.1-3l0.1-3l0.2-3l0.1-3l0.1-3l0.1-3l0.1-3l0.1-3l0.1-3l0.1-3l0.1-3l0.1-3l0.1-3l0.1-3l0.1-3l0.1-3l0-3l0.1-3.1l0.1-3l0.1-3l0-3l0.1-3l0.1-3l0.1-3l0-3l0.1-3l0.1-3l0-3l0.1-3l0.1-3l0.1-3l0-3l0.1-3l0.1-3l0.1-3l0-3l0.1-3l0.1-3l0.1-3l0.1-3l0.1-3l0.1-3l0.1-3l0.1-3l0.1-3l0.1-2.9l0.1-3l0.1-3l0.1-3l0.1-3l0.2-3l0.1-3l0.1-3l0.1-3l0.1-3l0.2-3l0.1-3l0.1-3l0.2-2.9l0.1-3l0.1-3l0.1-3l0.2-3l0.1-3l0.1-3l0.2-3l0.1-2.9l0.1-3l0.1-3l0.1-3l0.2-3l0.1-3l0.1-2.9l0.1-3l0.1-3l0.1-3l0.1-2.9l0.1-3l0.1-3l0.1-3l0.1-3l0.2-2.9l0.1-3l0.1-3l0.1-2.9l0.1-3l0-3l0.1-3l0.1-2.9l0.1-3l0.1-3l0.1-2.9l0.1-3l0.1-3l0.1-2.9l0.1-3l0.2-3l0.1-2.9l0.1-3l0.1-2.9l0.1-3l0.2-3l0.2-2.9l0.2-3l0.3-2.9l0.3-3l0.5-2.9l0.4-3l0.6-3l0.7-2.9l0.7-3l0.9-2.9l1-3l1.1-2.9l1.2-2.9l1.3-3l0.1 3l0.1 3l0.1 3l0 3l0.1 3l0.1 3l0.1 3l0.1 3l0.1 3l0 3l0.1 3l0.1 3l0.1 3l0.1 2.9l0.1 3l0.1 3l0.1 3l0.1 3l0.1 3l0.1 3l0.1 3l0.1 3l0.1 3l0.1 3l0.2 3l0.1 3l0.1 3l0.1 3l0.1 3l0.1 3l0.1 3l0.1 3l0.2 3l0.1 2.9l0.1 3l0.1 3l0.1 3l0.1 3l0.1 3l0.2 3l0.1 3l0.1 3l0.1 3l0.1 3l0.1 3l0.1 3l0.2 3l0.1 3l0.1 3l0.1 3l0.1 3l0.1 3l0.1 3l0.1 3l0.1 3l0.1 3l0.1 3l0.1 3l0.1 3l0.1 3l0.1 3l0.1 3l0.1 3l0.1 3l0.1 3l0.1 2.9l0.1 3l0.1 3l0.1 3l0.1 3l0.1 3l0 3l0.1 3l0.1 3l0.1 3l0.1 3l0 3l0.1 3l0.1 3l0.1 3l0 3l0.1 3l0.1 3l0 3l0.1 3l0.1 3l0 3l0.1 3l0.1 3l0 3l0.1 3l0.1 3l0 3l0.1 3l0 3l0.1 3l0.1 3l0 3l0.1 3l0 3l0.1 3l0.1 3l0 3l0.1 3l0 3l0.1 3l0 3l0.1 3l0.1 3l0 3l0.1 3l0 3l0.1 3l0 3l0.1 3l0 3l0.1 3l0.1 3l0 3l0.1 3l0 3l0.1 3l0 3l0.1 3l0 3l0.1 3l0.1 3l0 3l0.1 3l0 3l0.1 3l0 3l0.1 3l0 3l0.1 3l0.1 3l0 3l0.1 3l0 3l0.1 3l0 3l0.1 3l0.1 3l0 3l0.1 3l0 3l0.1 3l0 3l0.1 3l0 3l0.1 3l0.1 3l0 3l0.1 3l0 3l0.1 3l0 3.1l0.1 3l0.1 3l0 3l0.1 3l0 3l0.1 3l0 3l0.1 3l0.1 3l0 3l0.1 3l0 3l0.1 3l0 3l0.1 3l0.1 3l0 3l0.1 3l0 3l0.1 3l0 3l0.1 3l0.1 3l0 3l0.1 3l0 3l0.1 3l0.1 3l0 3l0.1 3l0 3l0.1 3l0 3l0.1 3l0.1 3l0 3l0.1 3l0 3l0.1 3l0.1 3l0 3l0.1 3l0 3l0.1 3l0 3.1l0.1 3l0.1 3l0 3l0.1 3l0 3l0.1 3l0.1 3l0 3l0.1 3l0 3l0.1 3l0.1 3l0 3l0.1 3l0 3l0.1 3l0.1 3l0 3l0.1 3l0 3l0.1 3l0.1 3l0 3l0.1 3l0.1 3l0 3l0.1 3l0 3l0.1 3l0.1 3l0 3l0.1 3l0 3l0.1 3l0.1 3l0 3l0.1 3.1l0.1 3l0 3l0.1 3l0 3l0.1 3l0.1 3l0 3l0.1 3l0.1 3l0 3l0.1 3l0 3l0.1 3l0.1 3l0 3l0.1 3l0.1 3l0 3l0.1 3l0 3l0.1 3l0.1 3l0 3l0.1 3l0.1 3l0 3l0.1 3l0.1 3l0 3l0.1 3l0.1 3l0 3l0.1 3l0.1 3l0 3l0.1 3l0.1 3l0 3l0.1 3.1l0.1 3l0 3l0.1 3l0.1 3l0 3l0.1 3l0.1 3l0 3l0.1 3l0.1 3l0 3l0.1 3l0.1 3l0 3l0.1 3l0.1 3l0.1 3l0 3l0.1 3l0.1 3l0 3l0.1 3l0.1 3l0.1 3l0 3l0.1 3l0.1 3l0 3l0.1 3l0.1 3l0.1 3l0 3l0.1 3l0.1 3l0.1 3l0 3l0.1 3l0.1 3l0.1 3l0.1 3l0 3l0.1 3l0.1 3l0.1 3l0 3l0.1 3l0.1 3l0.1 3l0.1 3l0.1 3l0 3l0.1 3l0.1 3l0.1 3l0.1 3l0.1 2.9l0 3l0.1 3l0.1 3l0.1 3l0.1 3l0.1 3l0.1 3l0 3l0.1 3l0.1 3l0.1 3l0.1 3l0.1 3l0.1 3l0.1 3l0.1 3l0 3l0.1 3l0.1 3l0.1 3l0.1 3l0.1 2.9l0.1 3l0.1 3l0.1 3l0.1 3l0.1 3l0.1 3l0.1 3l0.1 3l0.1 3l0.1 3l0.1 3l0.1 3l0.1 3l0.1 2.9l0.1 3l0.1 3l0.1 3l0.1 3l0.1 3l0.1 3l0.1 3l0.1 3l0.1 3l0.2 2.9l0.1 3l0.1 3l0.1 3l0.1 3l0.1 3l0.1 3l0.1 3l0.1 3l0.2 2.9l0.1 3l0.1 3l0.1 3l0.1 3l0.1 3l0.2 3l0.1 2.9l0.1 3l0.1 3l0.1 3l0.2 3l0.1 3l0.1 3l0.1 2.9l0.2 3l0.1 3l0.1 3l0.2 3l0.1 3l0.1 2.9l0.1 3l0.2 3l0.1 3l0.2 3l0.1 2.9l0.1 3l0.2 3l0.1 3l0.1 3l0.2 2.9l0.1 3l0.2 3l0.1 3l0.2 3l0.1 2.9l0.2 3l0.1 3l0.2 3l0.1 3l0.2 2.9l0.1 3l0.2 3l0.1 3l0.2 2.9l0.2 3l0.1 3l0.2 3l0.2 2.9l0.1 3l0.2 3l0.2 3l0.1 2.9l0.2 3l0.2 3l0.2 3l0.2 2.9l0.2 3l0.2 3l0.2 2.9l0.2 3l0.2 3l0.2 3l0.2 2.9l0.2 3l0.2 3l0.3 2.9l0.2 3l0.3 3l0.3 2.9l0.4 3l0.4 3l0.4 2.9l0.5 3l0.6 3l0.6 2.9l0.7 3l0.7 3l0.8 2.9l1 3l1 3l1 2.9l1.2 3" stroke="#0000ff" stroke-width="7" fill="none" stroke-linejoin="miter" stroke-miterlimit="3" stroke-linecap="butt"/>
<path d="M403 3403l3 0l3 0l3 0l3 0l3 0l3 0l3 0l3 0l3 0l2.9 0l3 0l3 0l3 0l3 0l3 0l3 0l3 0l3 0l3 0l3-0.1l3 0l3 0l3 0l3 0l3 0l3 0l3 0l3 0l3 0l3 0l3 0l3 0l3 0l3 0l3 0l3 0l3 0l3 0l3 0l3 0l3 0l3 0l3 0l3 0l3 0l3-0.1l3 0l3 0l3 0l3 0l3 0l3 0l3 0l3 0l3 0l3 0l3 0l3 0l3-0.1l3 0l3 0l3 0l3 0l3 0l3 0l3 0l3-0.1l3 0l3.1 0l3 0l3 0l3 0l3 0l3-0.1l3 0l3 0l3 0l3 0l3 0l3-0.1l3 0l3 0l3 0l3 0l3-0.1l3 0l3 0l3 0l3-0.1l3 0l3 0l3 0l3-0.1l3 0l3.1 0l3 0l3-0.1l3 0l3 0l3-0.1l3 0l3 0l3-0.1l3 0l3 0l3-0.1l3 0l3 0l3-0.1l3 0l3-0.1l3 0l3 0l3-0.1l3 0l3-0.1l3 0l3.1-0.1l3 0l3 0l3-0.1l3 0l3-0.1l3 0l3-0.1l3 0l3-0.1l3 0l3-0.1l3-0.1l3 0l3-0.1l3 0l3-0.1l3 0l3-0.1l3-0.1l3 0l3-0.1l3-0.1l3 0l3-0.1l3-0.1l3 0l3-0.1l3-0.1l3.1 0l3-0.1l3-0.1l3-0.1l3 0l3-0.1l3-0.1l3-0.1l3 0l3-0.1l3-0.1l3-0.1l3-0.1l3-0.1l3-0.1l3-0.1l3 0l3-0.1l3-0.1l3-0.1l3-0.1l3-0.1l3-0.1l3-0.1l3-0.1l3-0.1l3-0.1l3-0.2l3-0.1l3-0.1l3-0.1l3-0.1l3-0.1l3-0.1l3-0.2l3-0.1l3-0.1l3-0.1l3-0.2l3-0.1l2.9-0.1l3-0.2l3-0.1l3-0.1l3-0.2l3-0.1l3-0.2l3-0.1l3-0.2l3-0.1l3-0.2l3-0.1l3-0.2l3-0.1l3-0.2l3-0.2l3-0.1l3-0.2l3-0.2l3-0.1l2.9-0.2l3-0.2l3-0.2l3-0.2l3-0.1l3-0.2l3-0.2l3-0.2l3-0.2l3-0.2l3-0.2l3-0.2l2.9-0.2l3-0.2l3-0.2l3-0.2l3-0.3l3-0.2l3-0.2l3-0.2l3-0.3l2.9-0.2l3-0.2l3-0.3l3-0.2l3-0.2l3-0.3l3-0.2l3-0.3l2.9-0.2l3-0.3l3-0.3l3-0.2l3-0.3l3-0.3l3-0.2l2.9-0.3l3-0.3l3-0.3l3-0.3l3-0.3l3-0.3l2.9-0.3l3-0.3l3-0.3l3-0.3l3-0.3l2.9-0.3l3-0.3l3-0.3l3-0.4l3-0.3l2.9-0.3l3-0.4l3-0.3l3-0.4l3-0.3l2.9-0.4l3-0.3l3-0.4l3-0.4l2.9-0.3l3-0.4l3-0.4l3-0.4l2.9-0.3l3-0.4l3-0.4l3-0.4l2.9-0.4l3-0.4l3-0.4l2.9-0.5l3-0.4l3-0.4l3-0.4l2.9-0.5l3-0.4l3-0.4l2.9-0.5l3-0.4l3-0.5l2.9-0.5l3-0.4l3-0.5l2.9-0.5l3-0.4l3-0.5l2.9-0.5l3-0.5l3-0.5l2.9-0.5l3-0.5l2.9-0.5l3-0.5l3-0.5l2.9-0.6l3-0.5l2.9-0.5l3-0.6l2.9-0.5l3-0.6l3-0.5l2.9-0.6l3-0.5l2.9-0.6l3-0.5l2.9-0.6l3-0.6l2.9-0.6l2.9-0.6l3-0.6l2.9-0.6l3-0.6l2.9-0.6l3-0.6l2.9-0.6l2.9-0.6l3-0.6l2.9-0.7l2.9-0.6l3-0.7l2.9-0.6l2.9-0.6l3-0.7l2.9-0.7l2.9-0.6l2.9-0.7l3-0.7l2.9-0.6l2.9-0.7l2.9-0.7l2.9-0.7l3-0.7l2.9-0.7l2.9-0.7l2.9-0.7l2.9-0.8l2.9-0.7l2.9-0.7l2.9-0.8l2.9-0.7l2.9-0.7l2.9-0.8l2.9-0.7l2.9-0.8l2.9-0.8l2.9-0.7l2.9-0.8l2.9-0.8l2.9-0.8l2.9-0.8l2.8-0.8l2.9-0.8l2.9-0.8l2.9-0.8l2.9-0.9l2.8-0.8l2.9-0.8l2.9-0.9l2.9-0.8l2.8-0.9l2.9-0.8l2.8-0.9l2.9-0.9l2.9-0.8l2.8-0.9l2.9-0.9l2.8-0.9l2.9-0.9l2.8-0.9l2.9-0.9l2.8-1l2.9-0.9l2.8-0.9l2.8-1l2.9-0.9l2.8-1l2.8-1l2.9-0.9l2.8-1l2.8-1l2.8-1.1l2.9-1l2.8-1.1l2.8-1.1l2.8-1.1l2.8-1.2l2.8-1.2l2.8-1.2l2.8-1.3l2.8-1.2l2.8-1.3l2.8-1.3l2.8-1.4l2.8-1.3l2.8-1.3l2.8-1.3l2.8-1.2l2.8-1.3l2.8-1.2l2.8-1.2l2.8-1.1l2.7-1.1l2.8-1.1l2.8-1l2.8-1l2.8-1l2.7-1l2.8-1l2.8-0.9l2.7-1l2.8-0.9l2.8-1l2.7-0.9l2.8-0.9l2.8-1l2.7-0.9l2.8-1l2.8-1l2.7-1l2.8-1l2.7-1l2.8-1.1l2.7-1l2.8-1.1l2.7-1.1l2.8-1.2l2.7-1.1l2.8-1.2l2.7-1.1l2.8-1.2l2.7-1.2l2.8-1.2l2.7-1.3l2.8-1.2l2.7-1.2l2.8-1.3l2.7-1.2l2.8-1.3l2.7-1.3l2.8-1.2l2.7-1.3l2.8-1.3l2.8-1.3l2.7-1.2l2.8-1.3l2.7-1.3l2.8-1.2l2.8-1.3l2.7-1.3l2.8-1.2l2.8-1.3l2.8-1.2l2.8-1.2l2.7-1.2l2.8-1.3l2.8-1.2l2.8-1.1l2.8-1.2l2.8-1.2l2.8-1.1l2.8-1.1l2.8-1.1l2.8-1.1l2.9-1.1l2.8-1l2.8-1.1l2.8-1l2.9-1l2.8-1l2.8-1l2.8-1l2.8-1l2.9-1l2.8-1l2.8-1l2.8-1l2.7-1.1l2.8-1.1l2.8-1l2.7-1.2l2.7-1.1l2.7-1.2l2.7-1.2l2.7-1.2l2.6-1.3l2.7-1.3l2.6-1.4l2.6-1.4l2.5-1.4l2.6-1.6l2.5-1.5l2.5-1.6l2.5-1.7l2.4-1.7l2.4-1.7l2.5-1.8l2.4-1.8l2.4-1.9l2.3-1.8l2.4-1.9l2.4-1.9l2.3-1.9l2.4-1.9l2.3-1.9l2.4-2l2.3-1.9l2.4-1.9l2.3-2l2.4-1.9l2.3-1.9l2.4-1.9l2.4-1.9l2.3-1.8l2.4-1.9l2.5-1.8l2.4-1.8l2.4-1.7l2.5-1.8l2.4-1.7l2.5-1.6l2.5-1.7l2.6-1.6l2.5-1.6l2.5-1.6l2.6-1.5l2.6-1.5l2.6-1.5l2.6-1.5l2.7-1.4l2.7-1.4l2.7-1.4l2.7-1.3l2.7-1.2l2.8-1.2l2.8-1l2.8-0.8l2.8-0.7l2.8-0.4l2.9-0.3l2.9 0l2.9 0.1l2.9 0.3l2.9 0.5l2.9 0.7l2.8 0.8l2.8 0.9l2.8 1.1l2.8 1.3l2.7 1.4l2.7 1.5l2.6 1.6l2.5 1.8l2.4 1.8l2.4 2l2.3 2.1l2.2 2.2l2.1 2.2l2.1 2.3l2.1 2.3l2.1 2.4l2.1 2.2l2.2 2.3l2.2 2.1l2.4 2l2.4 1.9l2.4 1.8l2.5 1.5l2.5 1.4l2.5 1.1l2.4 0.8l2.4 0.4l2.3-0.2l2.1-1l2-1.8l1.8-2.5l1.6-2.7l1.4-2.9l1.2-2.9l1.1-3l0.9-3.1l0.8-3.1l0.7-3.1l0.6-3.1l0.4-3l0.5-3l0.3-3l0.3-2.9l0.3-2.9l0.3-2.9l0.3-2.9l0.3-3l0.3-2.9l0.3-2.9l0.3-3l0.4-2.9l0.3-3l0.3-3l0.3-3l0.4-3l0.3-2.9l0.3-3l0.3-3l0.3-3l0.4-3l0.3-3l0.3-3l0.3-3l0.3-3l0.3-3l0.3-3l0.2-3l0.3-3l0.3-3l0.3-3l0.2-3l0.3-3l0.2-3l0.3-3l0.2-3l0.3-3l0.2-3l0.2-3l0.3-3l0.2-2.9l0.2-3l0.2-3l0.3-3l0.2-3l0.2-3l0.2-3l0.2-3l0.2-3l0.2-3l0.2-3l0.2-3l0.2-2.9l0.2-3l0.1-3l0.2-3l0.2-3l0.2-3l0.2-3l0.1-3l0.2-3l0.2-3l0.2-3l0.1-3l0.2-2.9l0.2-3l0.1-3l0.2-3l0.2-3l0.1-3l0.2-3l0.1-3l0.2-3l0.2-3l0.1-3l0.2-3l0.1-3l0.2-3l0.2-2.9l0.1-3l0.2-3l0.1-3l0.2-3l0.2-3l0.1-3l0.2-3l0.1-3l0.2-3l0.1-3l0.2-3l0.2-3l0.1-3l0.2-3l0.1-3l0.2-3l0.1-3l0.2-3l0.2-3l0.1-3l0.2-3l0.1-3l0.2-3l0.1-3l0.2-3l0.1-3l0.2-3l0.2-3l0.1-3l0.2-3l0.1-3l0.2-3l0.1-3l0.2-3l0.1-3l0.2-3l0.1-3l0.2-3l0.2-3l0.1-3l0.2-3l0.1-3l0.2-3l0.1-3l0.2-3l0.1-3l0.2-3l0.1-3l0.2-3l0.1-3l0.2-3l0.1-3l0.2-3l0.1-3l0.2-3l0.1-3l0.2-3l0.1-3l0.2-3l0.1-3l0.2-3l0.1-3l0.2-3l0.1-3l0.2-3l0.1-3l0.2-3l0.1-3l0.2-3l0.1-3l0.2-3l0.1-3l0.2-3l0.1-3l0.2-3l0.1-3l0.2-3l0.1-3l0.2-3l0.1-3l0.2-3l0.1-3l0.2-3l0.1-3l0.2-3l0.1-3l0.2-3l0.1-3l0.2-3l0.1-3l0.2-3l0.1-3l0.2-3l0.1-3l0.2-3l0.1-2.9l0.2-3l0.1-3l0.2-3l0.1-3l0.2-3l0.1-3l0.1-3l0.2-3l0.1-3l0.2-3l0.1-3l0.2-3l0.1-3l0.2-3l0.1-3l0.2-3l0.1-2.9l0.2-3l0.1-3l0.2-3l0.1-3l0.2-3l0.1-3l0.1-3l0.2-3l0.1-3l0.2-3l0.1-2.9l0.2-3l0.1-3l0.2-3l0.1-3l0.2-3l0.1-3l0.1-3l0.2-3l0.1-3l0.2-2.9l0.1-3l0.2-3l0.1-3l0.1-3l0.2-3l0.1-3l0.2-3l0.1-3l0.1-3l0.2-3l0.1-2.9l0.1-3l0.2-3l0.1-3l0.1-3l0.2-3l0.1-3l0.1-3l0.1-3l0.2-3l0.1-3l0.1-3l0.1-3l0.2-3l0.1-3l0.1-3l0.1-3l0.1-3l0.1-3l0.1-3l0.1-3.1l0.1-3l0.1-3l0.1-3l0.1-3l0-3l0.1-3l0.1-3l0.1-3.1l0-3l0.1-3l0-3l0.1-3l0.1-3.1l0-3l0.1-3l0.1-3l0.1-3l0.1-3.1l0.2-3l0.1-3l0.2-3l0.2-3l0.2-3.1l0.2-3l0.2-3l0.3-3l0.3-3l0.2-3l0.3-3l0.2-3l0.3-3l0.2-3l0.3-3l0.2-3l0.1-3l0.2-3l0.1-3l0.1-2.9l0.1-3l0.1-3l0-2.9l0.1-3l0.1-2.9l0-3l0.2-2.9l0.1-3l0.2-2.9l0.2-2.9l0.3-2.9l0.4-2.9l0.4-2.9l0.5-2.9l0.6-2.9l0.7-2.9l0.8-2.9l1-2.9l1-2.8l1.2-2.9l1.3-2.8l0.4 3l0.3 3l0.3 2.9l0.3 3l0.2 3l0.3 3l0.3 3l0.3 3l0.3 2.9l0.2 3l0.3 3l0.3 3l0.2 3l0.3 3l0.3 3l0.2 2.9l0.3 3l0.2 3l0.2 3l0.3 3l0.2 3l0.3 3l0.2 3l0.2 2.9l0.2 3l0.3 3l0.2 3l0.2 3l0.2 3l0.2 3l0.2 3l0.2 2.9l0.2 3l0.2 3l0.2 3l0.2 3l0.2 3l0.2 3l0.2 3l0.1 3l0.2 3l0.2 2.9l0.2 3l0.1 3l0.2 3l0.2 3l0.1 3l0.2 3l0.2 3l0.1 3l0.2 3l0.1 3l0.2 3l0.1 2.9l0.2 3l0.1 3l0.2 3l0.1 3l0.2 3l0.1 3l0.2 3l0.1 3l0.1 3l0.2 3l0.1 3l0.1 3l0.2 3l0.1 3l0.1 3l0.1 3l0.2 3l0.1 2.9l0.1 3l0.1 3l0.2 3l0.1 3l0.1 3l0.1 3l0.1 3l0.1 3l0.2 3l0.1 3l0.1 3l0.1 3l0.1 3l0.1 3l0.1 3l0.1 3l0.1 3l0.2 3l0.1 3l0.1 3l0.1 3l0.1 3l0.1 3l0.1 3l0.1 3l0.1 3l0.1 3l0.1 3l0.1 3l0.1 3l0.1 3l0.1 3l0.1 3l0.1 3l0.2 3l0.1 3l0.1 3l0.1 3l0.1 3l0.1 3l0.1 3l0.1 3l0.1 3l0.1 3l0.1 3l0.1 3l0.1 3l0.1 3l0.1 3l0.1 3l0.1 3l0.2 3l0.1 3l0.1 3l0.1 3l0.1 3l0.1 3l0.1 3l0.1 3l0.1 3l0.1 3l0.1 3l0.1 3l0.1 3l0.1 3l0.1 3l0.1 3l0.2 3l0.1 3l0.1 3l0.1 3l0.1 3.1l0.1 3l0.1 3l0.1 3l0.1 3l0.1 3l0.1 3l0.1 3l0.1 3l0.1 3l0.1 3l0.1 3l0.2 3l0.1 3l0.1 3l0.1 3l0.1 3l0.1 3l0.1 3l0.1 3l0.1 3l0.1 3l0.1 3l0.1 3l0.1 3.1l0.1 3l0.1 3l0.1 3l0.1 3l0.2 3l0.1 3l0.1 3l0.1 3l0.1 3l0.1 3l0.1 3l0.1 3l0.1 3l0.1 3l0.1 3l0.1 3l0.1 3l0.1 3l0.1 3l0.1 3.1l0.1 3l0.1 3l0.1 3l0.1 3l0.1 3l0.1 3l0.2 3l0.1 3l0.1 3l0.1 3l0.1 3l0.1 3l0.1 3l0.1 3l0.1 3l0.1 3l0.1 3.1l0.1 3l0.1 3l0.1 3l0.1 3l0.1 3l0.1 3l0.1 3l0.1 3l0.1 3l0.1 3l0.1 3l0.1 3l0.1 3l0.1 3l0.1 3l0.1 3l0.1 3l0.1 3l0.1 3.1l0.1 3l0.1 3l0.1 3l0.1 3l0.2 3l0.1 3l0.1 3l0.1 3l0.1 3l0.1 3l0.1 3l0.1 3l0.1 3l0.1 3l0.1 3l0.1 3l0.1 3l0.1 3l0.1 3l0.1 3l0.1 3l0.2 3l0.1 3l0.1 3.1l0.1 3l0.1 3l0.1 3l0.1 3l0.1 3l0.1 3l0.2 3l0.1 3l0.1 3l0.1 3l0.1 3l0.1 3l0.1 3l0.2 3l0.1 3l0.1 3l0.1 3l0.1 3l0.2 3l0.1 3l0.1 3l0.1 3l0.1 3l0.2 3l0.1 3l0.1 3l0.1 3l0.2 3l0.1 3l0.1 3l0.2 2.9l0.1 3l0.1 3l0.1 3l0.2 3l0.1 3l0.1 3l0.2 3l0.1 3l0.1 3l0.2 3l0.1 3l0.2 3l0.1 3l0.1 3l0.2 3l0.1 3l0.2 3l0.1 2.9l0.2 3l0.1 3l0.2 3l0.1 3l0.2 3l0.1 3l0.2 3l0.1 3l0.2 3l0.1 2.9l0.2 3l0.1 3l0.2 3l0.2 3l0.1 3l0.2 3l0.2 3l0.1 2.9l0.2 3l0.2 3l0.1 3l0.2 3l0.2 3l0.2 2.9l0.1 3l0.2 3l0.2 3l0.2 3l0.2 3l0.1 2.9l0.2 3l0.2 3l0.2 3l0.2 3l0.2 2.9l0.2 3l0.2 3l0.2 3l0.2 2.9l0.2 3l0.2 3l0.3 3l0.2 2.9l0.2 3l0.2 3l0.2 3l0.3 2.9l0.2 3l0.2 3l0.3 3l0.2 2.9l0.2 3l0.3 3l0.2 2.9l0.3 3l0.2 3l0.3 3l0.2 2.9l0.3 3l0.3 3l0.2 2.9l0.3 3l0.3 3l0.3 2.9l0.3 3l0.3 2.9l0.3 3l0.3 3l0.3 2.9l0.4 3l0.3 3l0.4 2.9l0.4 3l0.3 2.9l0.4 3l0.5 3l0.4 2.9l0.4 3l0.5 2.9l0.5 3l0.5 2.9l0.5 3l0.5 2.9l0.6 3l0.6 3l0.5 2.9l0.7 3l0.6 2.9l0.7 3l0.6 2.9l0.8 3l0.7 2.9l0.7 3l0.8 2.9l0.8 2.9l0.9 3l0.8 2.9l0.9 3l1 2.9l0.9 3" stroke="#000000" stroke-width="7" fill="none" stroke-linejoin="miter" stroke-miterlimit="3" stroke-linecap="butt"/>
</g>
<g stroke="#000" fill="none">
<rect x="201.2" y="1977.4" width="2038.7" height="1425.6" stroke-width="4"/>
<path d="M201.2 3403v-41 M201.2 1977.4v41 M589.5 3403v-41 M589.5 1977.4v41 M977.8 3403v-41 M977.8 1977.4v41 M1366.2 3403v-41 M1366.2 1977.4v41 M1754.5 3403v-41 M1754.5 1977.4v41 M2142.8 3403v-41 M2142.8 1977.4v41 M395.4 3403v-20.5 M395.4 1977.4v20.5 M783.7 3403v-20.5 M783.7 1977.4v20.5 M1172 3403v-20.5 M1172 1977.4v20.5 M1560.3 3403v-20.5 M1560.3 1977.4v20.5 M1948.7 3403v-20.5 M1948.7 1977.4v20.5 M201.2 3403h41 M2239.9 3403h-41 M201.2 3183.7h41 M2239.9 3183.7h-41 M201.2 2964.4h41 M2239.9 2964.4h-41 M201.2 2745h41 M2239.9 2745h-41 M201.2 2525.7h41 M2239.9 2525.7h-41 M201.2 2306.4h41 M2239.9 2306.4h-41 M201.2 2087.1h41 M2239.9 2087.1h-41 M201.2 3293.3h20.5 M2239.9 3293.3h-20.5 M201.2 3074h20.5 M2239.9 3074h-20.5 M201.2 2854.7h20.5 M2239.9 2854.7h-20.5 M201.2 2635.4h20.5 M2239.9 2635.4h-20.5 M201.2 2416h20.5 M2239.9 2416h-20.5 M201.2 2196.7h20.5 M2239.9 2196.7h-20.5" stroke-width="3.9"/>
</g>
<path d="M593 3403V1975.5" stroke="#ff00ff" stroke-width="6.1" stroke-dasharray="27.2 14.55" fill="none"/>
<path d="M828.7 3403V1975.5" stroke="#ff0000" stroke-width="6.1" stroke-dasharray="27.2 14.55" fill="none"/>
<path d="M989.8 3403V1975.5" stroke="#00ffff" stroke-width="6.1" stroke-dasharray="27.2 14.55" fill="none"/>
<path d="M1260.2 3403V1975.5" stroke="#000000" stroke-width="6.1" stroke-dasharray="27.2 14.55" fill="none"/>
<path d="M1420.8 3403V1975.5" stroke="#0000ff" stroke-width="6.1" stroke-dasharray="27.2 14.55" fill="none"/>
<path d="M1677 3403V1975.5" stroke="#ff00ff" stroke-width="6.1" stroke-dasharray="27.2 14.55" fill="none"/>
<path d="M1905.8 3403V1975.5" stroke="#ff0000" stroke-width="6.1" stroke-dasharray="27.2 14.55" fill="none"/>
<path d="M2141.9 3402.7V1975.5" stroke="#000000" stroke-width="6.1" stroke-dasharray="38.4 22.45" fill="none"/>
<path d="M2142.4 3403V1975.5" stroke="#0000ff" stroke-width="6.1" stroke-dasharray="27.2 14.55" fill="none"/>
<path d="M2140.2 3403V1975.5" stroke="#00ffff" stroke-width="6.1" stroke-dasharray="27.2 14.55" fill="none"/>
<text x="202.7" y="3461.6" font-size="56" fill="#000" text-anchor="middle">0</text>
<text x="589.5" y="3461.6" font-size="56" fill="#000" text-anchor="middle">0.2</text>
<text x="977.8" y="3461.6" font-size="56" fill="#000" text-anchor="middle">0.4</text>
<text x="1366.2" y="3461.6" font-size="56" fill="#000" text-anchor="middle">0.6</text>
<text x="1754.5" y="3461.6" font-size="56" fill="#000" text-anchor="middle">0.8</text>
<text x="2142.8" y="3461.6" font-size="56" fill="#000" text-anchor="middle">1</text>
<text x="183.3" y="3422" font-size="56" fill="#000" text-anchor="end">0</text>
<text x="183.3" y="3202.7" font-size="56" fill="#000" text-anchor="end">2</text>
<text x="183.3" y="2983.4" font-size="56" fill="#000" text-anchor="end">4</text>
<text x="183.3" y="2764" font-size="56" fill="#000" text-anchor="end">6</text>
<text x="183.3" y="2544.7" font-size="56" fill="#000" text-anchor="end">8</text>
<text x="183.3" y="2325.4" font-size="56" fill="#000" text-anchor="end">10</text>
<text x="183.3" y="2106.1" font-size="56" fill="#000" text-anchor="end">12</text>
<text transform="translate(811.24 3542.70) scale(1.0095 1)" font-size="84.60" fill="#000">Full Procrustes distance</text>
<text transform="translate(88.20 2824.08) rotate(-90) scale(1.0041 1)" font-size="85.50" fill="#000">Density</text>
<text transform="translate(857.59 2968.60) scale(1.0179 1)" font-size="56.00" fill="#ff00ff">L-F</text>
<text transform="translate(1270.81 3093.40) scale(1.0044 1)" font-size="56.00" fill="#ff0000">L-6</text>
<text transform="translate(1472.51 3068.30) scale(1.0038 1)" font-size="56.00" fill="#00ffff">L-64</text>
<text transform="translate(1961.51 2715.20) scale(1.0076 1)" font-size="56.00" fill="#0000ff">L-45</text>
<text transform="translate(1977.66 3057.60) scale(1.0352 1)" font-size="56.00" fill="#000000">L-M</text>
</g>
<text><tspan x="1091.7" y="3688.6" font-size="86.8">(</tspan><tspan x="1119.9" y="3689.3" font-size="90.6" font-weight="bold">b</tspan><tspan x="1170.1" y="3688.6" font-size="86.8">)</tspan></text>
</svg>
</body></html>
